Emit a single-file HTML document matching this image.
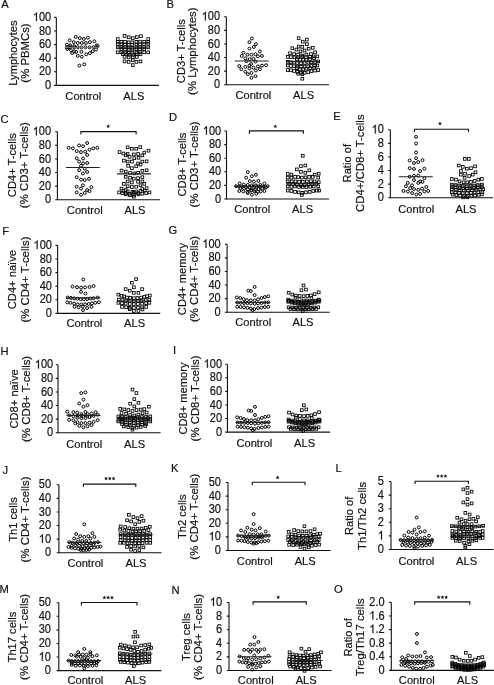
<!DOCTYPE html><html><head><meta charset="utf-8"><style>html,body{margin:0;padding:0;background:#fff;overflow:hidden;}svg{display:block;will-change:transform;}text{font-family:"Liberation Sans", sans-serif;fill:#111;stroke:#111;stroke-width:0.18px;}</style></head><body>
<svg width="494" height="685" viewBox="0 0 494 685">
<rect width="494" height="685" fill="#fff"/>
<g><text x="1.3" y="8.3" font-size="11.2">A</text><path d="M56.35 17.4V85.35H158.95" fill="none" stroke="#111" stroke-width="1.1"/><text transform="translate(45.11 88.95) scale(0.92 1)" font-size="12.0">0</text><text transform="translate(38.97 75.36) scale(0.92 1)" font-size="12.0">2</text><text transform="translate(45.11 75.36) scale(0.92 1)" font-size="12.0">0</text><text transform="translate(38.97 61.77) scale(0.92 1)" font-size="12.0">4</text><text transform="translate(45.11 61.77) scale(0.92 1)" font-size="12.0">0</text><text transform="translate(38.97 48.18) scale(0.92 1)" font-size="12.0">6</text><text transform="translate(45.11 48.18) scale(0.92 1)" font-size="12.0">0</text><text transform="translate(38.97 34.59) scale(0.92 1)" font-size="12.0">8</text><text transform="translate(45.11 34.59) scale(0.92 1)" font-size="12.0">0</text><path transform="translate(32.83 21) scale(0.005391 -0.005859)" d="M763 0H583V1147Q480 1050 223 930V1104Q420 1195 520 1300Q610 1390 649 1472H763Z" fill="#111" stroke="#111" stroke-width="36"/><text transform="translate(38.97 21) scale(0.92 1)" font-size="12.0">0</text><text transform="translate(45.11 21) scale(0.92 1)" font-size="12.0">0</text><path d="M54.15 85.35H56.35M54.15 71.76H56.35M54.15 58.17H56.35M54.15 44.58H56.35M54.15 30.99H56.35M54.15 17.4H56.35" stroke="#111" stroke-width="1.1"/><text transform="translate(16.8 53.1) rotate(-90)" font-size="11.15" text-anchor="middle">Lymphocytes</text><text transform="translate(29.4 53.1) rotate(-90)" font-size="11.35" text-anchor="middle">(<tspan dx="0.2">% PBMCs)</tspan></text><text transform="translate(65.35 99.8) scale(0.965 1)" font-size="11.55">Control</text><text transform="translate(123.3 99.8) scale(0.965 1)" font-size="11.55">ALS</text><g fill="none" stroke="#000" stroke-width="1.0"><circle cx="75.77" cy="36.88" r="1.45"/><circle cx="79.81" cy="38.1" r="1.45"/><circle cx="83.86" cy="38.91" r="1.45"/><circle cx="87.91" cy="37.69" r="1.45"/><circle cx="69.69" cy="40.36" r="1.45"/><circle cx="94.39" cy="41.34" r="1.45"/><circle cx="73.74" cy="42.15" r="1.45"/><circle cx="77.79" cy="42.96" r="1.45"/><circle cx="81.84" cy="42.96" r="1.45"/><circle cx="85.89" cy="42.96" r="1.45"/><circle cx="89.94" cy="42.15" r="1.45"/><circle cx="66.86" cy="44.57" r="1.45"/><circle cx="70.1" cy="45.38" r="1.45"/><circle cx="96.82" cy="45.38" r="1.45"/><circle cx="74.15" cy="46.19" r="1.45"/><circle cx="66.86" cy="47.41" r="1.45"/><circle cx="70.1" cy="47.17" r="1.45"/><circle cx="74.15" cy="47.41" r="1.45"/><circle cx="77.79" cy="47.17" r="1.45"/><circle cx="81.43" cy="47.41" r="1.45"/><circle cx="85.48" cy="47.17" r="1.45"/><circle cx="89.53" cy="47.41" r="1.45"/><circle cx="93.58" cy="47.17" r="1.45"/><circle cx="97.63" cy="46.19" r="1.45"/><circle cx="67.26" cy="49.03" r="1.45"/><circle cx="70.91" cy="50.24" r="1.45"/><circle cx="74.15" cy="51.46" r="1.45"/><circle cx="96.01" cy="49.43" r="1.45"/><circle cx="92.77" cy="51.21" r="1.45"/><circle cx="89.94" cy="53.08" r="1.45"/><circle cx="86.29" cy="54.29" r="1.45"/><circle cx="76.17" cy="51.86" r="1.45"/><circle cx="81.43" cy="51.86" r="1.45"/><circle cx="72.12" cy="53.08" r="1.45"/><circle cx="77.79" cy="55.91" r="1.45"/><circle cx="81.84" cy="56.72" r="1.45"/><circle cx="79.41" cy="65.63" r="1.45"/><circle cx="84.27" cy="64.41" r="1.45"/></g><g fill="none" stroke="#000" stroke-width="0.85"><rect x="123.22" y="34.57" width="2.7" height="2.7"/><rect x="127.32" y="35.94" width="2.7" height="2.7"/><rect x="131.42" y="36.85" width="2.7" height="2.7"/><rect x="135.52" y="35.75" width="2.7" height="2.7"/><rect x="139.62" y="34.84" width="2.7" height="2.7"/><rect x="116.39" y="37.76" width="2.7" height="2.7"/><rect x="146.9" y="37.76" width="2.7" height="2.7"/><rect x="116.39" y="40.49" width="2.7" height="2.7"/><rect x="120.03" y="40.49" width="2.7" height="2.7"/><rect x="123.68" y="40.49" width="2.7" height="2.7"/><rect x="127.32" y="40.95" width="2.7" height="2.7"/><rect x="130.96" y="40.95" width="2.7" height="2.7"/><rect x="135.06" y="40.49" width="2.7" height="2.7"/><rect x="138.7" y="40.31" width="2.7" height="2.7"/><rect x="142.8" y="40.49" width="2.7" height="2.7"/><rect x="146.9" y="40.49" width="2.7" height="2.7"/><rect x="116.39" y="42.77" width="2.7" height="2.7"/><rect x="120.03" y="43.04" width="2.7" height="2.7"/><rect x="123.68" y="43.22" width="2.7" height="2.7"/><rect x="127.32" y="43.4" width="2.7" height="2.7"/><rect x="130.96" y="43.4" width="2.7" height="2.7"/><rect x="135.06" y="43.22" width="2.7" height="2.7"/><rect x="138.7" y="43.04" width="2.7" height="2.7"/><rect x="142.8" y="42.77" width="2.7" height="2.7"/><rect x="146.9" y="42.49" width="2.7" height="2.7"/><rect x="116.39" y="45.95" width="2.7" height="2.7"/><rect x="120.03" y="45.95" width="2.7" height="2.7"/><rect x="123.68" y="45.95" width="2.7" height="2.7"/><rect x="127.32" y="46.14" width="2.7" height="2.7"/><rect x="130.96" y="46.41" width="2.7" height="2.7"/><rect x="135.06" y="46.14" width="2.7" height="2.7"/><rect x="138.7" y="45.95" width="2.7" height="2.7"/><rect x="142.8" y="45.95" width="2.7" height="2.7"/><rect x="146.9" y="45.95" width="2.7" height="2.7"/><rect x="120.03" y="47.78" width="2.7" height="2.7"/><rect x="123.68" y="47.96" width="2.7" height="2.7"/><rect x="127.32" y="48.23" width="2.7" height="2.7"/><rect x="130.96" y="48.23" width="2.7" height="2.7"/><rect x="135.06" y="47.96" width="2.7" height="2.7"/><rect x="138.7" y="47.78" width="2.7" height="2.7"/><rect x="142.8" y="47.78" width="2.7" height="2.7"/><rect x="116.39" y="50.96" width="2.7" height="2.7"/><rect x="120.03" y="50.96" width="2.7" height="2.7"/><rect x="123.68" y="51.24" width="2.7" height="2.7"/><rect x="127.32" y="51.42" width="2.7" height="2.7"/><rect x="130.96" y="51.42" width="2.7" height="2.7"/><rect x="135.06" y="51.24" width="2.7" height="2.7"/><rect x="138.7" y="50.96" width="2.7" height="2.7"/><rect x="142.8" y="50.96" width="2.7" height="2.7"/><rect x="146.9" y="50.96" width="2.7" height="2.7"/><rect x="121.4" y="52.78" width="2.7" height="2.7"/><rect x="125.04" y="53.06" width="2.7" height="2.7"/><rect x="128.23" y="53.24" width="2.7" height="2.7"/><rect x="131.87" y="53.24" width="2.7" height="2.7"/><rect x="135.52" y="53.06" width="2.7" height="2.7"/><rect x="139.16" y="52.78" width="2.7" height="2.7"/><rect x="123.22" y="55.52" width="2.7" height="2.7"/><rect x="127.32" y="55.97" width="2.7" height="2.7"/><rect x="131.42" y="55.97" width="2.7" height="2.7"/><rect x="135.52" y="55.52" width="2.7" height="2.7"/><rect x="123.22" y="60.07" width="2.7" height="2.7"/><rect x="127.32" y="60.53" width="2.7" height="2.7"/><rect x="135.06" y="60.53" width="2.7" height="2.7"/><rect x="139.16" y="60.07" width="2.7" height="2.7"/><rect x="131.42" y="58.7" width="2.7" height="2.7"/><rect x="131.42" y="63.71" width="2.7" height="2.7"/></g><path d="M64.8 47.5H98.8" stroke="#777" stroke-width="1.1"/><path d="M115.95 48H149.95" stroke="#222" stroke-width="1.1"/></g>
<g><text x="166.5" y="8.4" font-size="11.2">B</text><path d="M226.35 16.8V84.75H328.95" fill="none" stroke="#111" stroke-width="1.1"/><text transform="translate(214.01 88.35) scale(0.92 1)" font-size="12.0">0</text><text transform="translate(207.87 74.76) scale(0.92 1)" font-size="12.0">2</text><text transform="translate(214.01 74.76) scale(0.92 1)" font-size="12.0">0</text><text transform="translate(207.87 61.17) scale(0.92 1)" font-size="12.0">4</text><text transform="translate(214.01 61.17) scale(0.92 1)" font-size="12.0">0</text><text transform="translate(207.87 47.58) scale(0.92 1)" font-size="12.0">6</text><text transform="translate(214.01 47.58) scale(0.92 1)" font-size="12.0">0</text><text transform="translate(207.87 33.99) scale(0.92 1)" font-size="12.0">8</text><text transform="translate(214.01 33.99) scale(0.92 1)" font-size="12.0">0</text><path transform="translate(201.73 20.4) scale(0.005391 -0.005859)" d="M763 0H583V1147Q480 1050 223 930V1104Q420 1195 520 1300Q610 1390 649 1472H763Z" fill="#111" stroke="#111" stroke-width="36"/><text transform="translate(207.87 20.4) scale(0.92 1)" font-size="12.0">0</text><text transform="translate(214.01 20.4) scale(0.92 1)" font-size="12.0">0</text><path d="M224.15 84.75H226.35M224.15 71.16H226.35M224.15 57.57H226.35M224.15 43.98H226.35M224.15 30.39H226.35M224.15 16.8H226.35" stroke="#111" stroke-width="1.1"/><text transform="translate(184.7 51.2) rotate(-90)" font-size="11.15" text-anchor="middle">CD3+ T-cells</text><text transform="translate(196.4 51.2) rotate(-90)" font-size="11.35" text-anchor="middle">(<tspan dx="0.2">% Lymphocytes)</tspan></text><text transform="translate(235.45 99.3) scale(0.965 1)" font-size="11.55">Control</text><text transform="translate(293.1 99.3) scale(0.965 1)" font-size="11.55">ALS</text><g fill="none" stroke="#000" stroke-width="1.0"><circle cx="251.84" cy="38.5" r="1.45"/><circle cx="249.41" cy="42.15" r="1.45"/><circle cx="255.89" cy="44.17" r="1.45"/><circle cx="253.86" cy="47" r="1.45"/><circle cx="249.41" cy="48.62" r="1.45"/><circle cx="243.34" cy="52.67" r="1.45"/><circle cx="259.94" cy="51.46" r="1.45"/><circle cx="241.72" cy="55.91" r="1.45"/><circle cx="247.38" cy="54.7" r="1.45"/><circle cx="251.43" cy="54.7" r="1.45"/><circle cx="255.48" cy="54.29" r="1.45"/><circle cx="257.91" cy="56.32" r="1.45"/><circle cx="261.96" cy="55.91" r="1.45"/><circle cx="245.36" cy="58.34" r="1.45"/><circle cx="249.81" cy="59.15" r="1.45"/><circle cx="253.46" cy="58.74" r="1.45"/><circle cx="246.57" cy="61.17" r="1.45"/><circle cx="255.48" cy="61.58" r="1.45"/><circle cx="251.03" cy="64.01" r="1.45"/><circle cx="239.29" cy="66.03" r="1.45"/><circle cx="245.36" cy="66.84" r="1.45"/><circle cx="249.41" cy="65.63" r="1.45"/><circle cx="253.46" cy="67.65" r="1.45"/><circle cx="257.91" cy="66.44" r="1.45"/><circle cx="261.96" cy="65.63" r="1.45"/><circle cx="266.01" cy="65.22" r="1.45"/><circle cx="241.31" cy="69.27" r="1.45"/><circle cx="249.41" cy="68.46" r="1.45"/><circle cx="255.89" cy="70.49" r="1.45"/><circle cx="259.94" cy="69.27" r="1.45"/><circle cx="245.36" cy="71.7" r="1.45"/><circle cx="247.79" cy="74.13" r="1.45"/><circle cx="251.43" cy="72.91" r="1.45"/><circle cx="255.48" cy="76.15" r="1.45"/><circle cx="251.43" cy="77.77" r="1.45"/></g><g fill="none" stroke="#000" stroke-width="0.85"><rect x="297.32" y="36.85" width="2.7" height="2.7"/><rect x="301.42" y="40.31" width="2.7" height="2.7"/><rect x="305.52" y="38.21" width="2.7" height="2.7"/><rect x="305.52" y="42.77" width="2.7" height="2.7"/><rect x="290.95" y="46.86" width="2.7" height="2.7"/><rect x="295.04" y="48.23" width="2.7" height="2.7"/><rect x="297.32" y="45.23" width="2.7" height="2.7"/><rect x="300.96" y="45.5" width="2.7" height="2.7"/><rect x="303.24" y="49.14" width="2.7" height="2.7"/><rect x="307.34" y="47.32" width="2.7" height="2.7"/><rect x="311.44" y="46.41" width="2.7" height="2.7"/><rect x="299.14" y="50.05" width="2.7" height="2.7"/><rect x="288.67" y="51.87" width="2.7" height="2.7"/><rect x="292.77" y="52.78" width="2.7" height="2.7"/><rect x="296.86" y="53.24" width="2.7" height="2.7"/><rect x="300.96" y="54.15" width="2.7" height="2.7"/><rect x="305.06" y="53.24" width="2.7" height="2.7"/><rect x="309.62" y="52.78" width="2.7" height="2.7"/><rect x="313.71" y="50.96" width="2.7" height="2.7"/><rect x="286.39" y="55.52" width="2.7" height="2.7"/><rect x="289.58" y="55.79" width="2.7" height="2.7"/><rect x="293.22" y="55.97" width="2.7" height="2.7"/><rect x="296.86" y="55.97" width="2.7" height="2.7"/><rect x="300.96" y="55.52" width="2.7" height="2.7"/><rect x="304.61" y="55.97" width="2.7" height="2.7"/><rect x="308.7" y="55.52" width="2.7" height="2.7"/><rect x="312.35" y="55.06" width="2.7" height="2.7"/><rect x="315.99" y="55.06" width="2.7" height="2.7"/><rect x="295.5" y="57.61" width="2.7" height="2.7"/><rect x="298.69" y="58.25" width="2.7" height="2.7"/><rect x="301.87" y="58.25" width="2.7" height="2.7"/><rect x="305.06" y="58.25" width="2.7" height="2.7"/><rect x="308.7" y="57.61" width="2.7" height="2.7"/><rect x="312.8" y="56.88" width="2.7" height="2.7"/><rect x="286.39" y="60.53" width="2.7" height="2.7"/><rect x="289.58" y="60.98" width="2.7" height="2.7"/><rect x="292.77" y="61.25" width="2.7" height="2.7"/><rect x="295.95" y="61.62" width="2.7" height="2.7"/><rect x="299.6" y="61.89" width="2.7" height="2.7"/><rect x="303.24" y="61.62" width="2.7" height="2.7"/><rect x="306.88" y="61.25" width="2.7" height="2.7"/><rect x="310.07" y="60.98" width="2.7" height="2.7"/><rect x="313.71" y="60.71" width="2.7" height="2.7"/><rect x="316.9" y="60.07" width="2.7" height="2.7"/><rect x="286.39" y="64.17" width="2.7" height="2.7"/><rect x="289.58" y="64.62" width="2.7" height="2.7"/><rect x="292.77" y="64.9" width="2.7" height="2.7"/><rect x="295.95" y="65.26" width="2.7" height="2.7"/><rect x="299.6" y="65.54" width="2.7" height="2.7"/><rect x="303.24" y="65.26" width="2.7" height="2.7"/><rect x="306.88" y="64.9" width="2.7" height="2.7"/><rect x="310.07" y="64.62" width="2.7" height="2.7"/><rect x="313.71" y="64.35" width="2.7" height="2.7"/><rect x="315.99" y="64.17" width="2.7" height="2.7"/><rect x="295.5" y="66.9" width="2.7" height="2.7"/><rect x="298.69" y="67.63" width="2.7" height="2.7"/><rect x="301.87" y="67.81" width="2.7" height="2.7"/><rect x="305.06" y="67.36" width="2.7" height="2.7"/><rect x="308.7" y="66.9" width="2.7" height="2.7"/><rect x="312.8" y="66.45" width="2.7" height="2.7"/><rect x="286.39" y="68.72" width="2.7" height="2.7"/><rect x="289.58" y="68.91" width="2.7" height="2.7"/><rect x="292.77" y="69.63" width="2.7" height="2.7"/><rect x="295.95" y="70.54" width="2.7" height="2.7"/><rect x="299.6" y="71.46" width="2.7" height="2.7"/><rect x="303.24" y="71.46" width="2.7" height="2.7"/><rect x="306.88" y="70.73" width="2.7" height="2.7"/><rect x="310.07" y="69.82" width="2.7" height="2.7"/><rect x="313.71" y="69.18" width="2.7" height="2.7"/><rect x="316.9" y="68.72" width="2.7" height="2.7"/><rect x="296.86" y="72.37" width="2.7" height="2.7"/><rect x="300.96" y="72.82" width="2.7" height="2.7"/><rect x="300.96" y="77.37" width="2.7" height="2.7"/></g><path d="M234.8 61H268.8" stroke="#222" stroke-width="1.1"/><path d="M285.95 61.6H319.95" stroke="#222" stroke-width="1.1"/></g>
<g><text x="0.5" y="123.4" font-size="11.2">C</text><path d="M57.4 131.8V199.75H160" fill="none" stroke="#111" stroke-width="1.1"/><text transform="translate(45.01 203.35) scale(0.92 1)" font-size="12.0">0</text><text transform="translate(38.87 189.76) scale(0.92 1)" font-size="12.0">2</text><text transform="translate(45.01 189.76) scale(0.92 1)" font-size="12.0">0</text><text transform="translate(38.87 176.17) scale(0.92 1)" font-size="12.0">4</text><text transform="translate(45.01 176.17) scale(0.92 1)" font-size="12.0">0</text><text transform="translate(38.87 162.58) scale(0.92 1)" font-size="12.0">6</text><text transform="translate(45.01 162.58) scale(0.92 1)" font-size="12.0">0</text><text transform="translate(38.87 148.99) scale(0.92 1)" font-size="12.0">8</text><text transform="translate(45.01 148.99) scale(0.92 1)" font-size="12.0">0</text><path transform="translate(32.73 135.4) scale(0.005391 -0.005859)" d="M763 0H583V1147Q480 1050 223 930V1104Q420 1195 520 1300Q610 1390 649 1472H763Z" fill="#111" stroke="#111" stroke-width="36"/><text transform="translate(38.87 135.4) scale(0.92 1)" font-size="12.0">0</text><text transform="translate(45.01 135.4) scale(0.92 1)" font-size="12.0">0</text><path d="M55.2 199.75H57.4M55.2 186.16H57.4M55.2 172.57H57.4M55.2 158.98H57.4M55.2 145.39H57.4M55.2 131.8H57.4" stroke="#111" stroke-width="1.1"/><text transform="translate(15.5 165.2) rotate(-90)" font-size="11.15" text-anchor="middle">CD4+ T-cells</text><text transform="translate(28 165.2) rotate(-90)" font-size="11.35" text-anchor="middle">(<tspan dx="0.2">% CD3+ T-cells)</tspan></text><text transform="translate(66.85 214.3) scale(0.965 1)" font-size="11.55">Control</text><text transform="translate(124.5 214.3) scale(0.965 1)" font-size="11.55">ALS</text><g fill="none" stroke="#000" stroke-width="1.0"><circle cx="87.14" cy="143.06" r="1.45"/><circle cx="79.08" cy="145.44" r="1.45"/><circle cx="83.06" cy="146.2" r="1.45"/><circle cx="68.64" cy="147.81" r="1.45"/><circle cx="72.91" cy="148.28" r="1.45"/><circle cx="76.71" cy="151.13" r="1.45"/><circle cx="80.98" cy="152.08" r="1.45"/><circle cx="85.24" cy="151.6" r="1.45"/><circle cx="89.51" cy="149.71" r="1.45"/><circle cx="93.31" cy="148.28" r="1.45"/><circle cx="97.29" cy="147.81" r="1.45"/><circle cx="87.14" cy="154.92" r="1.45"/><circle cx="76.71" cy="158.24" r="1.45"/><circle cx="83.06" cy="158.53" r="1.45"/><circle cx="79.08" cy="161.57" r="1.45"/><circle cx="83.06" cy="163.46" r="1.45"/><circle cx="87.14" cy="162.99" r="1.45"/><circle cx="80.98" cy="165.83" r="1.45"/><circle cx="79.08" cy="170.1" r="1.45"/><circle cx="84.77" cy="168.68" r="1.45"/><circle cx="87.14" cy="172" r="1.45"/><circle cx="82.87" cy="173.43" r="1.45"/><circle cx="76.71" cy="177.22" r="1.45"/><circle cx="80.98" cy="179.59" r="1.45"/><circle cx="84.77" cy="180.07" r="1.45"/><circle cx="89.04" cy="178.83" r="1.45"/><circle cx="76.71" cy="186.71" r="1.45"/><circle cx="82.87" cy="185.28" r="1.45"/><circle cx="80.98" cy="188.61" r="1.45"/><circle cx="91.41" cy="187.18" r="1.45"/><circle cx="87.14" cy="190.03" r="1.45"/><circle cx="89.51" cy="191.17" r="1.45"/><circle cx="76.71" cy="192.4" r="1.45"/><circle cx="80.98" cy="194.77" r="1.45"/><circle cx="84.77" cy="192.87" r="1.45"/></g><g fill="none" stroke="#000" stroke-width="0.85"><rect x="126.3" y="145.98" width="2.7" height="2.7"/><rect x="130.57" y="147.41" width="2.7" height="2.7"/><rect x="134.84" y="147.41" width="2.7" height="2.7"/><rect x="138.92" y="145.79" width="2.7" height="2.7"/><rect x="118.24" y="150.73" width="2.7" height="2.7"/><rect x="147.18" y="149.3" width="2.7" height="2.7"/><rect x="142.91" y="151.2" width="2.7" height="2.7"/><rect x="122.04" y="152.15" width="2.7" height="2.7"/><rect x="126.3" y="152.63" width="2.7" height="2.7"/><rect x="132.47" y="153.1" width="2.7" height="2.7"/><rect x="136.74" y="152.63" width="2.7" height="2.7"/><rect x="141.01" y="154.05" width="2.7" height="2.7"/><rect x="124.41" y="154.05" width="2.7" height="2.7"/><rect x="128.2" y="155.47" width="2.7" height="2.7"/><rect x="132.95" y="156.89" width="2.7" height="2.7"/><rect x="137.22" y="156.42" width="2.7" height="2.7"/><rect x="122.51" y="159.27" width="2.7" height="2.7"/><rect x="126.3" y="160.22" width="2.7" height="2.7"/><rect x="130.57" y="160.22" width="2.7" height="2.7"/><rect x="141.01" y="160.22" width="2.7" height="2.7"/><rect x="145.28" y="160.03" width="2.7" height="2.7"/><rect x="136.74" y="162.11" width="2.7" height="2.7"/><rect x="139.11" y="163.25" width="2.7" height="2.7"/><rect x="126.78" y="164.48" width="2.7" height="2.7"/><rect x="134.84" y="164.96" width="2.7" height="2.7"/><rect x="130.57" y="166.86" width="2.7" height="2.7"/><rect x="120.14" y="169.23" width="2.7" height="2.7"/><rect x="124.41" y="170.18" width="2.7" height="2.7"/><rect x="141.01" y="169.51" width="2.7" height="2.7"/><rect x="145.28" y="168.94" width="2.7" height="2.7"/><rect x="128.68" y="171.6" width="2.7" height="2.7"/><rect x="132.95" y="172.08" width="2.7" height="2.7"/><rect x="136.74" y="171.41" width="2.7" height="2.7"/><rect x="124.41" y="175.4" width="2.7" height="2.7"/><rect x="128.68" y="176.34" width="2.7" height="2.7"/><rect x="132.47" y="177.29" width="2.7" height="2.7"/><rect x="136.74" y="176.82" width="2.7" height="2.7"/><rect x="141.01" y="175.87" width="2.7" height="2.7"/><rect x="126.3" y="180.14" width="2.7" height="2.7"/><rect x="130.57" y="181.09" width="2.7" height="2.7"/><rect x="136.74" y="180.33" width="2.7" height="2.7"/><rect x="141.01" y="180.14" width="2.7" height="2.7"/><rect x="122.51" y="182.51" width="2.7" height="2.7"/><rect x="142.91" y="182.51" width="2.7" height="2.7"/><rect x="126.3" y="184.88" width="2.7" height="2.7"/><rect x="130.57" y="185.64" width="2.7" height="2.7"/><rect x="134.84" y="185.36" width="2.7" height="2.7"/><rect x="139.11" y="183.93" width="2.7" height="2.7"/><rect x="120.14" y="187.26" width="2.7" height="2.7"/><rect x="124.41" y="188.68" width="2.7" height="2.7"/><rect x="141.01" y="187.73" width="2.7" height="2.7"/><rect x="145.28" y="186.78" width="2.7" height="2.7"/><rect x="122.04" y="189.63" width="2.7" height="2.7"/><rect x="126.3" y="190.1" width="2.7" height="2.7"/><rect x="131.05" y="190.39" width="2.7" height="2.7"/><rect x="134.84" y="190.2" width="2.7" height="2.7"/><rect x="139.11" y="189.63" width="2.7" height="2.7"/><rect x="143.38" y="189.15" width="2.7" height="2.7"/><rect x="117.77" y="191.05" width="2.7" height="2.7"/><rect x="121.09" y="191.71" width="2.7" height="2.7"/><rect x="124.41" y="192" width="2.7" height="2.7"/><rect x="128.2" y="192.47" width="2.7" height="2.7"/><rect x="132.47" y="191.34" width="2.7" height="2.7"/><rect x="136.74" y="191.71" width="2.7" height="2.7"/><rect x="141.01" y="192.28" width="2.7" height="2.7"/><rect x="144.81" y="191.71" width="2.7" height="2.7"/><rect x="148.13" y="191.05" width="2.7" height="2.7"/><rect x="124.41" y="192.95" width="2.7" height="2.7"/><rect x="128.68" y="193.9" width="2.7" height="2.7"/><rect x="132.95" y="193.42" width="2.7" height="2.7"/><rect x="137.22" y="192.95" width="2.7" height="2.7"/><rect x="132.47" y="195.32" width="2.7" height="2.7"/></g><path d="M65.85 167.5H99.85" stroke="#222" stroke-width="1.1"/><path d="M117 173.9H151" stroke="#222" stroke-width="1.1"/><path d="M80.9 134.5V131.6H136.1V134.5" fill="none" stroke="#111" stroke-width="1.1"/><polygon points="108.2,124.2 108.73,125.52 110.15,125.62 109.06,126.53 109.4,127.91 108.2,127.15 107,127.91 107.34,126.53 106.25,125.62 107.67,125.52" fill="#111"/></g>
<g><text x="169.1" y="121.4" font-size="11.2">D</text><path d="M226.5 131V198.95H329.1" fill="none" stroke="#111" stroke-width="1.1"/><text transform="translate(215.11 202.55) scale(0.92 1)" font-size="12.0">0</text><text transform="translate(208.97 188.96) scale(0.92 1)" font-size="12.0">2</text><text transform="translate(215.11 188.96) scale(0.92 1)" font-size="12.0">0</text><text transform="translate(208.97 175.37) scale(0.92 1)" font-size="12.0">4</text><text transform="translate(215.11 175.37) scale(0.92 1)" font-size="12.0">0</text><text transform="translate(208.97 161.78) scale(0.92 1)" font-size="12.0">6</text><text transform="translate(215.11 161.78) scale(0.92 1)" font-size="12.0">0</text><text transform="translate(208.97 148.19) scale(0.92 1)" font-size="12.0">8</text><text transform="translate(215.11 148.19) scale(0.92 1)" font-size="12.0">0</text><path transform="translate(202.83 134.6) scale(0.005391 -0.005859)" d="M763 0H583V1147Q480 1050 223 930V1104Q420 1195 520 1300Q610 1390 649 1472H763Z" fill="#111" stroke="#111" stroke-width="36"/><text transform="translate(208.97 134.6) scale(0.92 1)" font-size="12.0">0</text><text transform="translate(215.11 134.6) scale(0.92 1)" font-size="12.0">0</text><path d="M224.3 198.95H226.5M224.3 185.36H226.5M224.3 171.77H226.5M224.3 158.18H226.5M224.3 144.59H226.5M224.3 131H226.5" stroke="#111" stroke-width="1.1"/><text transform="translate(185.8 164.5) rotate(-90)" font-size="11.15" text-anchor="middle">CD8+ T-cells</text><text transform="translate(198 164.5) rotate(-90)" font-size="11.35" text-anchor="middle">(<tspan dx="0.2">% CD3+ T-cells)</tspan></text><text transform="translate(234.25 213.3) scale(0.965 1)" font-size="11.55">Control</text><text transform="translate(292.1 213.3) scale(0.965 1)" font-size="11.55">ALS</text><g fill="none" stroke="#000" stroke-width="1.0"><circle cx="247.81" cy="172.17" r="1.45"/><circle cx="251.86" cy="176.21" r="1.45"/><circle cx="255.91" cy="174.84" r="1.45"/><circle cx="246.19" cy="177.67" r="1.45"/><circle cx="249.84" cy="181.07" r="1.45"/><circle cx="253.89" cy="181.56" r="1.45"/><circle cx="258.34" cy="180.91" r="1.45"/><circle cx="239.72" cy="183.5" r="1.45"/><circle cx="243.77" cy="184.55" r="1.45"/><circle cx="247.81" cy="184.96" r="1.45"/><circle cx="251.86" cy="185.36" r="1.45"/><circle cx="255.91" cy="185.36" r="1.45"/><circle cx="260.36" cy="184.96" r="1.45"/><circle cx="264.41" cy="183.5" r="1.45"/><circle cx="236.07" cy="186.17" r="1.45"/><circle cx="238.91" cy="186.42" r="1.45"/><circle cx="242.15" cy="186.74" r="1.45"/><circle cx="245.79" cy="186.98" r="1.45"/><circle cx="249.43" cy="186.98" r="1.45"/><circle cx="253.08" cy="186.74" r="1.45"/><circle cx="256.72" cy="186.74" r="1.45"/><circle cx="259.96" cy="186.74" r="1.45"/><circle cx="264.01" cy="186.74" r="1.45"/><circle cx="267.65" cy="186.17" r="1.45"/><circle cx="240.53" cy="188.2" r="1.45"/><circle cx="244.17" cy="188.6" r="1.45"/><circle cx="247.81" cy="189.41" r="1.45"/><circle cx="251.46" cy="189.82" r="1.45"/><circle cx="255.1" cy="189.66" r="1.45"/><circle cx="258.74" cy="189.01" r="1.45"/><circle cx="262.39" cy="188.2" r="1.45"/><circle cx="266.03" cy="187.39" r="1.45"/><circle cx="239.31" cy="191.03" r="1.45"/><circle cx="243.36" cy="191.44" r="1.45"/><circle cx="247.41" cy="191.84" r="1.45"/><circle cx="251.05" cy="190.63" r="1.45"/><circle cx="254.29" cy="191.03" r="1.45"/><circle cx="257.94" cy="191.84" r="1.45"/><circle cx="260.77" cy="191.44" r="1.45"/><circle cx="264.41" cy="191.03" r="1.45"/><circle cx="247.81" cy="193.06" r="1.45"/><circle cx="251.86" cy="194.68" r="1.45"/><circle cx="256.32" cy="193.7" r="1.45"/></g><g fill="none" stroke="#000" stroke-width="0.85"><rect x="301.42" y="154.4" width="2.7" height="2.7"/><rect x="299.6" y="164.78" width="2.7" height="2.7"/><rect x="303.97" y="164.14" width="2.7" height="2.7"/><rect x="295.5" y="168.06" width="2.7" height="2.7"/><rect x="299.6" y="170.52" width="2.7" height="2.7"/><rect x="303.97" y="171.43" width="2.7" height="2.7"/><rect x="307.98" y="168.97" width="2.7" height="2.7"/><rect x="286.39" y="172.61" width="2.7" height="2.7"/><rect x="290.03" y="173.25" width="2.7" height="2.7"/><rect x="313.26" y="173.25" width="2.7" height="2.7"/><rect x="317.36" y="172.34" width="2.7" height="2.7"/><rect x="286.39" y="176.25" width="2.7" height="2.7"/><rect x="290.03" y="176.25" width="2.7" height="2.7"/><rect x="293.68" y="175.53" width="2.7" height="2.7"/><rect x="296.86" y="175.71" width="2.7" height="2.7"/><rect x="300.51" y="176.25" width="2.7" height="2.7"/><rect x="304.15" y="175.98" width="2.7" height="2.7"/><rect x="307.79" y="175.53" width="2.7" height="2.7"/><rect x="311.44" y="175.53" width="2.7" height="2.7"/><rect x="316.9" y="176.25" width="2.7" height="2.7"/><rect x="286.39" y="180.08" width="2.7" height="2.7"/><rect x="290.49" y="180.08" width="2.7" height="2.7"/><rect x="294.13" y="180.08" width="2.7" height="2.7"/><rect x="297.78" y="180.54" width="2.7" height="2.7"/><rect x="301.42" y="180.54" width="2.7" height="2.7"/><rect x="305.52" y="180.08" width="2.7" height="2.7"/><rect x="309.62" y="179.9" width="2.7" height="2.7"/><rect x="313.26" y="180.08" width="2.7" height="2.7"/><rect x="317.36" y="180.81" width="2.7" height="2.7"/><rect x="287.76" y="182.36" width="2.7" height="2.7"/><rect x="291.86" y="182.81" width="2.7" height="2.7"/><rect x="295.5" y="183.27" width="2.7" height="2.7"/><rect x="299.6" y="183.72" width="2.7" height="2.7"/><rect x="303.24" y="183.72" width="2.7" height="2.7"/><rect x="307.34" y="183.27" width="2.7" height="2.7"/><rect x="310.98" y="182.81" width="2.7" height="2.7"/><rect x="315.08" y="182.36" width="2.7" height="2.7"/><rect x="286.39" y="185.09" width="2.7" height="2.7"/><rect x="290.03" y="185.54" width="2.7" height="2.7"/><rect x="293.68" y="185.09" width="2.7" height="2.7"/><rect x="297.78" y="185.54" width="2.7" height="2.7"/><rect x="301.42" y="185.54" width="2.7" height="2.7"/><rect x="305.06" y="185.54" width="2.7" height="2.7"/><rect x="308.7" y="185.36" width="2.7" height="2.7"/><rect x="312.35" y="185.09" width="2.7" height="2.7"/><rect x="316.9" y="185.09" width="2.7" height="2.7"/><rect x="286.39" y="189.19" width="2.7" height="2.7"/><rect x="290.03" y="189.64" width="2.7" height="2.7"/><rect x="293.68" y="190.55" width="2.7" height="2.7"/><rect x="297.32" y="191.01" width="2.7" height="2.7"/><rect x="300.96" y="191.46" width="2.7" height="2.7"/><rect x="304.61" y="191.01" width="2.7" height="2.7"/><rect x="308.25" y="190.55" width="2.7" height="2.7"/><rect x="311.89" y="189.64" width="2.7" height="2.7"/><rect x="315.54" y="189.19" width="2.7" height="2.7"/><rect x="317.81" y="189.19" width="2.7" height="2.7"/><rect x="300.51" y="193.56" width="2.7" height="2.7"/></g><path d="M234.95 186.4H268.95" stroke="#222" stroke-width="1.1"/><path d="M286.1 183.8H320.1" stroke="#222" stroke-width="1.1"/><path d="M249.4 133.8V130.9H303.4V133.8" fill="none" stroke="#111" stroke-width="1.1"/><polygon points="275.3,124.4 275.83,125.72 277.25,125.82 276.16,126.73 276.5,128.11 275.3,127.35 274.1,128.11 274.44,126.73 273.35,125.82 274.77,125.72" fill="#111"/></g>
<g><text x="333.2" y="120.2" font-size="11.2">E</text><path d="M390.35 129.8V197.75H492.95" fill="none" stroke="#111" stroke-width="1.1"/><text transform="translate(377.81 201.35) scale(0.92 1)" font-size="12.0">0</text><text transform="translate(377.81 187.76) scale(0.92 1)" font-size="12.0">2</text><text transform="translate(377.81 174.17) scale(0.92 1)" font-size="12.0">4</text><text transform="translate(377.81 160.58) scale(0.92 1)" font-size="12.0">6</text><text transform="translate(377.81 146.99) scale(0.92 1)" font-size="12.0">8</text><path transform="translate(371.67 133.4) scale(0.005391 -0.005859)" d="M763 0H583V1147Q480 1050 223 930V1104Q420 1195 520 1300Q610 1390 649 1472H763Z" fill="#111" stroke="#111" stroke-width="36"/><text transform="translate(377.81 133.4) scale(0.92 1)" font-size="12.0">0</text><path d="M388.15 197.75H390.35M388.15 184.16H390.35M388.15 170.57H390.35M388.15 156.98H390.35M388.15 143.39H390.35M388.15 129.8H390.35" stroke="#111" stroke-width="1.1"/><text transform="translate(351.1 163.2) rotate(-90)" font-size="11.15" text-anchor="middle">Ratio of</text><text transform="translate(363.7 163.2) rotate(-90)" font-size="11.35" text-anchor="middle">CD4+/CD8+ T-cells</text><text transform="translate(398.25 213.3) scale(0.965 1)" font-size="11.55">Control</text><text transform="translate(455.5 213.3) scale(0.965 1)" font-size="11.55">ALS</text><g fill="none" stroke="#000" stroke-width="1.0"><circle cx="416.06" cy="136.9" r="1.45"/><circle cx="416.06" cy="143.54" r="1.45"/><circle cx="416.06" cy="152.55" r="1.45"/><circle cx="416.06" cy="158.24" r="1.45"/><circle cx="409.71" cy="160.43" r="1.45"/><circle cx="413.98" cy="162.99" r="1.45"/><circle cx="418.24" cy="162.04" r="1.45"/><circle cx="422.51" cy="160.14" r="1.45"/><circle cx="409.71" cy="168.21" r="1.45"/><circle cx="413.98" cy="168.97" r="1.45"/><circle cx="424.41" cy="168.68" r="1.45"/><circle cx="420.14" cy="171.05" r="1.45"/><circle cx="409.71" cy="176.75" r="1.45"/><circle cx="413.98" cy="175.8" r="1.45"/><circle cx="418.24" cy="175.61" r="1.45"/><circle cx="413.98" cy="180.07" r="1.45"/><circle cx="424.41" cy="178.17" r="1.45"/><circle cx="407.81" cy="182.91" r="1.45"/><circle cx="412.08" cy="185.28" r="1.45"/><circle cx="418.24" cy="182.91" r="1.45"/><circle cx="420.14" cy="181.49" r="1.45"/><circle cx="422.51" cy="181.96" r="1.45"/><circle cx="405.91" cy="186.23" r="1.45"/><circle cx="410.18" cy="188.13" r="1.45"/><circle cx="413.98" cy="189.08" r="1.45"/><circle cx="418.24" cy="189.84" r="1.45"/><circle cx="422.04" cy="188.61" r="1.45"/><circle cx="426.31" cy="186.99" r="1.45"/><circle cx="403.54" cy="190.98" r="1.45"/><circle cx="407.81" cy="191.45" r="1.45"/><circle cx="412.08" cy="193.06" r="1.45"/><circle cx="416.35" cy="194.58" r="1.45"/><circle cx="420.14" cy="193.82" r="1.45"/><circle cx="424.41" cy="191.45" r="1.45"/><circle cx="428.21" cy="190.98" r="1.45"/></g><g fill="none" stroke="#000" stroke-width="0.85"><rect x="463.5" y="157.58" width="2.7" height="2.7"/><rect x="467.51" y="157.58" width="2.7" height="2.7"/><rect x="457.31" y="164.13" width="2.7" height="2.7"/><rect x="461.41" y="165.5" width="2.7" height="2.7"/><rect x="465.51" y="167.32" width="2.7" height="2.7"/><rect x="469.61" y="166.86" width="2.7" height="2.7"/><rect x="473.7" y="165.04" width="2.7" height="2.7"/><rect x="459.59" y="169.6" width="2.7" height="2.7"/><rect x="459.59" y="173.24" width="2.7" height="2.7"/><rect x="463.69" y="172.33" width="2.7" height="2.7"/><rect x="467.78" y="174.61" width="2.7" height="2.7"/><rect x="471.43" y="173.24" width="2.7" height="2.7"/><rect x="474.16" y="170.96" width="2.7" height="2.7"/><rect x="463.23" y="176.43" width="2.7" height="2.7"/><rect x="450.48" y="177.61" width="2.7" height="2.7"/><rect x="454.58" y="178.25" width="2.7" height="2.7"/><rect x="458.22" y="180.07" width="2.7" height="2.7"/><rect x="462.32" y="180.98" width="2.7" height="2.7"/><rect x="465.96" y="180.98" width="2.7" height="2.7"/><rect x="469.61" y="180.53" width="2.7" height="2.7"/><rect x="473.25" y="179.62" width="2.7" height="2.7"/><rect x="476.89" y="178.25" width="2.7" height="2.7"/><rect x="480.54" y="177.61" width="2.7" height="2.7"/><rect x="450.48" y="183.26" width="2.7" height="2.7"/><rect x="454.12" y="183.71" width="2.7" height="2.7"/><rect x="457.77" y="184.17" width="2.7" height="2.7"/><rect x="461.41" y="184.62" width="2.7" height="2.7"/><rect x="465.51" y="184.9" width="2.7" height="2.7"/><rect x="469.15" y="184.62" width="2.7" height="2.7"/><rect x="472.79" y="184.17" width="2.7" height="2.7"/><rect x="476.44" y="183.71" width="2.7" height="2.7"/><rect x="480.54" y="183.26" width="2.7" height="2.7"/><rect x="450.48" y="185.99" width="2.7" height="2.7"/><rect x="454.12" y="186.17" width="2.7" height="2.7"/><rect x="458.22" y="186.72" width="2.7" height="2.7"/><rect x="461.86" y="186.9" width="2.7" height="2.7"/><rect x="465.51" y="187.08" width="2.7" height="2.7"/><rect x="469.15" y="186.9" width="2.7" height="2.7"/><rect x="472.79" y="186.72" width="2.7" height="2.7"/><rect x="476.44" y="186.17" width="2.7" height="2.7"/><rect x="480.54" y="185.99" width="2.7" height="2.7"/><rect x="450.48" y="187.81" width="2.7" height="2.7"/><rect x="454.58" y="188.27" width="2.7" height="2.7"/><rect x="458.22" y="188.72" width="2.7" height="2.7"/><rect x="462.32" y="189.18" width="2.7" height="2.7"/><rect x="466.42" y="189.18" width="2.7" height="2.7"/><rect x="470.52" y="188.72" width="2.7" height="2.7"/><rect x="474.62" y="188.27" width="2.7" height="2.7"/><rect x="478.71" y="187.81" width="2.7" height="2.7"/><rect x="481.9" y="187.81" width="2.7" height="2.7"/><rect x="450.48" y="191" width="2.7" height="2.7"/><rect x="454.12" y="191.27" width="2.7" height="2.7"/><rect x="457.77" y="191.46" width="2.7" height="2.7"/><rect x="461.41" y="191.64" width="2.7" height="2.7"/><rect x="465.51" y="191.64" width="2.7" height="2.7"/><rect x="469.61" y="191.46" width="2.7" height="2.7"/><rect x="473.25" y="191.27" width="2.7" height="2.7"/><rect x="476.89" y="191" width="2.7" height="2.7"/><rect x="480.99" y="191" width="2.7" height="2.7"/><rect x="451.39" y="193.28" width="2.7" height="2.7"/><rect x="455.03" y="193.73" width="2.7" height="2.7"/><rect x="458.68" y="194.19" width="2.7" height="2.7"/><rect x="462.78" y="194.64" width="2.7" height="2.7"/><rect x="466.42" y="194.64" width="2.7" height="2.7"/><rect x="470.06" y="194.37" width="2.7" height="2.7"/><rect x="473.7" y="194.01" width="2.7" height="2.7"/><rect x="477.35" y="193.46" width="2.7" height="2.7"/><rect x="480.54" y="193.09" width="2.7" height="2.7"/><rect x="461.86" y="196.01" width="2.7" height="2.7"/><rect x="465.96" y="196.01" width="2.7" height="2.7"/></g><path d="M398.8 176.8H432.8" stroke="#222" stroke-width="1.1"/><path d="M449.95 185H483.95" stroke="#222" stroke-width="1.1"/><path d="M414.4 132.1V129.2H468.4V132.1" fill="none" stroke="#111" stroke-width="1.1"/><polygon points="440,121.5 440.53,122.82 441.95,122.92 440.86,123.83 441.2,125.21 440,124.45 438.8,125.21 439.14,123.83 438.05,122.92 439.47,122.82" fill="#111"/></g>
<g><text x="2.2" y="235.2" font-size="11.2">F</text><path d="M57.65 245.4V313.35H160.25" fill="none" stroke="#111" stroke-width="1.1"/><text transform="translate(45.81 316.95) scale(0.92 1)" font-size="12.0">0</text><text transform="translate(39.67 303.36) scale(0.92 1)" font-size="12.0">2</text><text transform="translate(45.81 303.36) scale(0.92 1)" font-size="12.0">0</text><text transform="translate(39.67 289.77) scale(0.92 1)" font-size="12.0">4</text><text transform="translate(45.81 289.77) scale(0.92 1)" font-size="12.0">0</text><text transform="translate(39.67 276.18) scale(0.92 1)" font-size="12.0">6</text><text transform="translate(45.81 276.18) scale(0.92 1)" font-size="12.0">0</text><text transform="translate(39.67 262.59) scale(0.92 1)" font-size="12.0">8</text><text transform="translate(45.81 262.59) scale(0.92 1)" font-size="12.0">0</text><path transform="translate(33.53 249) scale(0.005391 -0.005859)" d="M763 0H583V1147Q480 1050 223 930V1104Q420 1195 520 1300Q610 1390 649 1472H763Z" fill="#111" stroke="#111" stroke-width="36"/><text transform="translate(39.67 249) scale(0.92 1)" font-size="12.0">0</text><text transform="translate(45.81 249) scale(0.92 1)" font-size="12.0">0</text><path d="M55.45 313.35H57.65M55.45 299.76H57.65M55.45 286.17H57.65M55.45 272.58H57.65M55.45 258.99H57.65M55.45 245.4H57.65" stroke="#111" stroke-width="1.1"/><text transform="translate(16.1 279.6) rotate(-90)" font-size="11.15" text-anchor="middle">CD4+ naïve</text><text transform="translate(28.7 279.6) rotate(-90)" font-size="11.35" text-anchor="middle">(<tspan dx="0.2">% CD4+ T-cells)</tspan></text><text transform="translate(66.45 327.3) scale(0.965 1)" font-size="11.55">Control</text><text transform="translate(124.1 327.3) scale(0.965 1)" font-size="11.55">ALS</text><g fill="none" stroke="#000" stroke-width="1.0"><circle cx="83.21" cy="279.55" r="1.45"/><circle cx="72.53" cy="286.6" r="1.45"/><circle cx="76.98" cy="287.17" r="1.45"/><circle cx="81.03" cy="287.65" r="1.45"/><circle cx="85.08" cy="287.41" r="1.45"/><circle cx="89.53" cy="287" r="1.45"/><circle cx="93.58" cy="286.03" r="1.45"/><circle cx="81.03" cy="291.86" r="1.45"/><circle cx="85.48" cy="293.48" r="1.45"/><circle cx="67.67" cy="297.53" r="1.45"/><circle cx="70.91" cy="297.94" r="1.45"/><circle cx="74.15" cy="298.34" r="1.45"/><circle cx="77.38" cy="298.74" r="1.45"/><circle cx="80.62" cy="299.15" r="1.45"/><circle cx="83.86" cy="299.31" r="1.45"/><circle cx="87.1" cy="298.99" r="1.45"/><circle cx="90.34" cy="298.5" r="1.45"/><circle cx="93.58" cy="298.18" r="1.45"/><circle cx="97.63" cy="297.53" r="1.45"/><circle cx="67.26" cy="302.39" r="1.45"/><circle cx="70.5" cy="302.79" r="1.45"/><circle cx="74.15" cy="303.6" r="1.45"/><circle cx="77.79" cy="304.41" r="1.45"/><circle cx="81.43" cy="304.41" r="1.45"/><circle cx="85.08" cy="304.41" r="1.45"/><circle cx="88.72" cy="304.01" r="1.45"/><circle cx="91.96" cy="303.36" r="1.45"/><circle cx="95.2" cy="302.79" r="1.45"/><circle cx="98.84" cy="302.23" r="1.45"/><circle cx="74.55" cy="306.84" r="1.45"/><circle cx="78.6" cy="307.25" r="1.45"/><circle cx="82.65" cy="306.44" r="1.45"/><circle cx="87.1" cy="308.06" r="1.45"/><circle cx="91.55" cy="306.84" r="1.45"/><circle cx="83.05" cy="310.08" r="1.45"/></g><g fill="none" stroke="#000" stroke-width="0.85"><rect x="134.78" y="277.77" width="2.7" height="2.7"/><rect x="130.5" y="281.41" width="2.7" height="2.7"/><rect x="132.51" y="285.96" width="2.7" height="2.7"/><rect x="124.31" y="287.78" width="2.7" height="2.7"/><rect x="128.41" y="289.33" width="2.7" height="2.7"/><rect x="140.7" y="287.78" width="2.7" height="2.7"/><rect x="132.51" y="291.43" width="2.7" height="2.7"/><rect x="137.06" y="291.43" width="2.7" height="2.7"/><rect x="117.03" y="293.25" width="2.7" height="2.7"/><rect x="120.21" y="294.43" width="2.7" height="2.7"/><rect x="122.95" y="295.07" width="2.7" height="2.7"/><rect x="125.68" y="296.25" width="2.7" height="2.7"/><rect x="128.86" y="296.44" width="2.7" height="2.7"/><rect x="132.51" y="296.89" width="2.7" height="2.7"/><rect x="136.15" y="296.62" width="2.7" height="2.7"/><rect x="139.79" y="296.25" width="2.7" height="2.7"/><rect x="142.98" y="295.53" width="2.7" height="2.7"/><rect x="145.71" y="294.8" width="2.7" height="2.7"/><rect x="148.45" y="294.16" width="2.7" height="2.7"/><rect x="117.48" y="298.26" width="2.7" height="2.7"/><rect x="121.12" y="298.71" width="2.7" height="2.7"/><rect x="124.77" y="299.17" width="2.7" height="2.7"/><rect x="128.41" y="299.62" width="2.7" height="2.7"/><rect x="132.51" y="299.9" width="2.7" height="2.7"/><rect x="136.61" y="299.62" width="2.7" height="2.7"/><rect x="140.25" y="299.17" width="2.7" height="2.7"/><rect x="144.35" y="298.71" width="2.7" height="2.7"/><rect x="147.99" y="298.26" width="2.7" height="2.7"/><rect x="117.03" y="301.45" width="2.7" height="2.7"/><rect x="120.67" y="301.9" width="2.7" height="2.7"/><rect x="124.31" y="302.36" width="2.7" height="2.7"/><rect x="128.41" y="302.63" width="2.7" height="2.7"/><rect x="132.51" y="302.81" width="2.7" height="2.7"/><rect x="136.61" y="302.63" width="2.7" height="2.7"/><rect x="140.7" y="302.36" width="2.7" height="2.7"/><rect x="144.8" y="301.9" width="2.7" height="2.7"/><rect x="147.99" y="301.45" width="2.7" height="2.7"/><rect x="120.67" y="305.54" width="2.7" height="2.7"/><rect x="124.77" y="306" width="2.7" height="2.7"/><rect x="128.41" y="306.46" width="2.7" height="2.7"/><rect x="132.51" y="306.64" width="2.7" height="2.7"/><rect x="136.61" y="306.27" width="2.7" height="2.7"/><rect x="140.7" y="306" width="2.7" height="2.7"/><rect x="144.8" y="305.54" width="2.7" height="2.7"/><rect x="128.41" y="307.82" width="2.7" height="2.7"/><rect x="132.51" y="309.64" width="2.7" height="2.7"/><rect x="137.06" y="309.64" width="2.7" height="2.7"/><rect x="141.16" y="308.09" width="2.7" height="2.7"/></g><path d="M66.1 297.9H100.1" stroke="#222" stroke-width="1.1"/><path d="M117.25 301H151.25" stroke="#222" stroke-width="1.1"/></g>
<g><text x="168.4" y="234.3" font-size="11.2">G</text><path d="M227.1 244.3V312.25H329.7" fill="none" stroke="#111" stroke-width="1.1"/><text transform="translate(214.61 315.85) scale(0.92 1)" font-size="12.0">0</text><text transform="translate(208.47 302.26) scale(0.92 1)" font-size="12.0">2</text><text transform="translate(214.61 302.26) scale(0.92 1)" font-size="12.0">0</text><text transform="translate(208.47 288.67) scale(0.92 1)" font-size="12.0">4</text><text transform="translate(214.61 288.67) scale(0.92 1)" font-size="12.0">0</text><text transform="translate(208.47 275.08) scale(0.92 1)" font-size="12.0">6</text><text transform="translate(214.61 275.08) scale(0.92 1)" font-size="12.0">0</text><text transform="translate(208.47 261.49) scale(0.92 1)" font-size="12.0">8</text><text transform="translate(214.61 261.49) scale(0.92 1)" font-size="12.0">0</text><path transform="translate(202.33 247.9) scale(0.005391 -0.005859)" d="M763 0H583V1147Q480 1050 223 930V1104Q420 1195 520 1300Q610 1390 649 1472H763Z" fill="#111" stroke="#111" stroke-width="36"/><text transform="translate(208.47 247.9) scale(0.92 1)" font-size="12.0">0</text><text transform="translate(214.61 247.9) scale(0.92 1)" font-size="12.0">0</text><path d="M224.9 312.25H227.1M224.9 298.66H227.1M224.9 285.07H227.1M224.9 271.48H227.1M224.9 257.89H227.1M224.9 244.3H227.1" stroke="#111" stroke-width="1.1"/><text transform="translate(185.8 279.1) rotate(-90)" font-size="11.15" text-anchor="middle">CD4+ memory</text><text transform="translate(198 279.1) rotate(-90)" font-size="11.35" text-anchor="middle">(<tspan dx="0.2">% CD4+ T-cells)</tspan></text><text transform="translate(235.25 326.3) scale(0.965 1)" font-size="11.55">Control</text><text transform="translate(292.5 326.3) scale(0.965 1)" font-size="11.55">ALS</text><g fill="none" stroke="#000" stroke-width="1.0"><circle cx="254.66" cy="286.97" r="1.45"/><circle cx="248.28" cy="290.63" r="1.45"/><circle cx="250.83" cy="291.05" r="1.45"/><circle cx="254.66" cy="295.14" r="1.45"/><circle cx="236.8" cy="297.43" r="1.45"/><circle cx="240.2" cy="298.03" r="1.45"/><circle cx="243.61" cy="299.13" r="1.45"/><circle cx="247.01" cy="300.24" r="1.45"/><circle cx="250.83" cy="300.41" r="1.45"/><circle cx="254.66" cy="300.41" r="1.45"/><circle cx="258.06" cy="299.39" r="1.45"/><circle cx="261.46" cy="298.03" r="1.45"/><circle cx="264.86" cy="297.01" r="1.45"/><circle cx="268.27" cy="296.33" r="1.45"/><circle cx="237.23" cy="302.53" r="1.45"/><circle cx="240.63" cy="302.79" r="1.45"/><circle cx="244.03" cy="302.96" r="1.45"/><circle cx="247.43" cy="303.13" r="1.45"/><circle cx="250.83" cy="303.38" r="1.45"/><circle cx="254.66" cy="303.81" r="1.45"/><circle cx="258.06" cy="303.38" r="1.45"/><circle cx="261.46" cy="302.96" r="1.45"/><circle cx="264.86" cy="302.53" r="1.45"/><circle cx="268.27" cy="302.28" r="1.45"/><circle cx="237.23" cy="306.79" r="1.45"/><circle cx="240.63" cy="307.04" r="1.45"/><circle cx="244.03" cy="307.38" r="1.45"/><circle cx="247.43" cy="307.89" r="1.45"/><circle cx="250.83" cy="308.49" r="1.45"/><circle cx="254.23" cy="309.08" r="1.45"/><circle cx="258.06" cy="308.06" r="1.45"/><circle cx="261.46" cy="307.64" r="1.45"/><circle cx="264.86" cy="307.04" r="1.45"/><circle cx="268.27" cy="306.79" r="1.45"/><circle cx="252.53" cy="310.19" r="1.45"/></g><g fill="none" stroke="#000" stroke-width="0.85"><rect x="302.15" y="284.11" width="2.7" height="2.7"/><rect x="300.05" y="288.85" width="2.7" height="2.7"/><rect x="304.61" y="288.21" width="2.7" height="2.7"/><rect x="287.3" y="291.4" width="2.7" height="2.7"/><rect x="290.95" y="293.22" width="2.7" height="2.7"/><rect x="294.59" y="294.31" width="2.7" height="2.7"/><rect x="298.23" y="294.59" width="2.7" height="2.7"/><rect x="302.33" y="294.86" width="2.7" height="2.7"/><rect x="305.97" y="294.59" width="2.7" height="2.7"/><rect x="309.62" y="294.13" width="2.7" height="2.7"/><rect x="313.26" y="292.77" width="2.7" height="2.7"/><rect x="317.36" y="290.95" width="2.7" height="2.7"/><rect x="294.13" y="296.41" width="2.7" height="2.7"/><rect x="298.23" y="297.78" width="2.7" height="2.7"/><rect x="302.33" y="299.14" width="2.7" height="2.7"/><rect x="305.97" y="299.14" width="2.7" height="2.7"/><rect x="310.07" y="296.86" width="2.7" height="2.7"/><rect x="287.3" y="305.97" width="2.7" height="2.7"/><rect x="290.95" y="306.15" width="2.7" height="2.7"/><rect x="294.59" y="306.43" width="2.7" height="2.7"/><rect x="298.23" y="306.43" width="2.7" height="2.7"/><rect x="301.87" y="306.43" width="2.7" height="2.7"/><rect x="305.52" y="306.43" width="2.7" height="2.7"/><rect x="309.16" y="306.43" width="2.7" height="2.7"/><rect x="312.8" y="306.15" width="2.7" height="2.7"/><rect x="316.9" y="305.97" width="2.7" height="2.7"/><rect x="289.12" y="307.61" width="2.7" height="2.7"/><rect x="292.77" y="307.79" width="2.7" height="2.7"/><rect x="296.41" y="307.98" width="2.7" height="2.7"/><rect x="300.05" y="307.98" width="2.7" height="2.7"/><rect x="303.7" y="307.98" width="2.7" height="2.7"/><rect x="307.34" y="307.98" width="2.7" height="2.7"/><rect x="310.98" y="307.79" width="2.7" height="2.7"/><rect x="314.62" y="307.61" width="2.7" height="2.7"/><rect x="301.42" y="309.62" width="2.7" height="2.7"/><rect x="286.85" y="298.25" width="2.7" height="2.7"/><rect x="290.23" y="299.28" width="2.7" height="2.7"/><rect x="293.61" y="300.05" width="2.7" height="2.7"/><rect x="296.98" y="300.56" width="2.7" height="2.7"/><rect x="300.36" y="300.82" width="2.7" height="2.7"/><rect x="303.74" y="300.82" width="2.7" height="2.7"/><rect x="307.12" y="300.56" width="2.7" height="2.7"/><rect x="310.49" y="300.05" width="2.7" height="2.7"/><rect x="313.87" y="299.28" width="2.7" height="2.7"/><rect x="317.25" y="298.25" width="2.7" height="2.7"/><rect x="287.62" y="299.51" width="2.7" height="2.7"/><rect x="291" y="300.48" width="2.7" height="2.7"/><rect x="294.38" y="301.19" width="2.7" height="2.7"/><rect x="297.76" y="301.64" width="2.7" height="2.7"/><rect x="301.14" y="301.84" width="2.7" height="2.7"/><rect x="304.51" y="301.78" width="2.7" height="2.7"/><rect x="307.89" y="301.47" width="2.7" height="2.7"/><rect x="311.27" y="300.89" width="2.7" height="2.7"/><rect x="314.65" y="300.06" width="2.7" height="2.7"/><rect x="318.02" y="298.98" width="2.7" height="2.7"/><rect x="286.85" y="300.25" width="2.7" height="2.7"/><rect x="290.23" y="301.28" width="2.7" height="2.7"/><rect x="293.61" y="302.05" width="2.7" height="2.7"/><rect x="296.98" y="302.56" width="2.7" height="2.7"/><rect x="300.36" y="302.82" width="2.7" height="2.7"/><rect x="303.74" y="302.82" width="2.7" height="2.7"/><rect x="307.12" y="302.56" width="2.7" height="2.7"/><rect x="310.49" y="302.05" width="2.7" height="2.7"/><rect x="313.87" y="301.28" width="2.7" height="2.7"/><rect x="317.25" y="300.25" width="2.7" height="2.7"/></g><path d="M235.55 302.5H269.55" stroke="#222" stroke-width="1.1"/><path d="M286.7 302.8H320.7" stroke="#222" stroke-width="1.1"/></g>
<g><text x="0.6" y="354.5" font-size="11.2">H</text><path d="M58 364.8V432.75H160.6" fill="none" stroke="#111" stroke-width="1.1"/><text transform="translate(47.11 436.35) scale(0.92 1)" font-size="12.0">0</text><text transform="translate(40.97 422.76) scale(0.92 1)" font-size="12.0">2</text><text transform="translate(47.11 422.76) scale(0.92 1)" font-size="12.0">0</text><text transform="translate(40.97 409.17) scale(0.92 1)" font-size="12.0">4</text><text transform="translate(47.11 409.17) scale(0.92 1)" font-size="12.0">0</text><text transform="translate(40.97 395.58) scale(0.92 1)" font-size="12.0">6</text><text transform="translate(47.11 395.58) scale(0.92 1)" font-size="12.0">0</text><text transform="translate(40.97 381.99) scale(0.92 1)" font-size="12.0">8</text><text transform="translate(47.11 381.99) scale(0.92 1)" font-size="12.0">0</text><path transform="translate(34.83 368.4) scale(0.005391 -0.005859)" d="M763 0H583V1147Q480 1050 223 930V1104Q420 1195 520 1300Q610 1390 649 1472H763Z" fill="#111" stroke="#111" stroke-width="36"/><text transform="translate(40.97 368.4) scale(0.92 1)" font-size="12.0">0</text><text transform="translate(47.11 368.4) scale(0.92 1)" font-size="12.0">0</text><path d="M55.8 432.75H58M55.8 419.16H58M55.8 405.57H58M55.8 391.98H58M55.8 378.39H58M55.8 364.8H58" stroke="#111" stroke-width="1.1"/><text transform="translate(17.5 398.9) rotate(-90)" font-size="11.15" text-anchor="middle">CD8+ naïve</text><text transform="translate(29.7 398.9) rotate(-90)" font-size="11.35" text-anchor="middle">(<tspan dx="0.2">% CD8+ T-cells)</tspan></text><text transform="translate(66.25 448.3) scale(0.965 1)" font-size="11.55">Control</text><text transform="translate(124.1 448.3) scale(0.965 1)" font-size="11.55">ALS</text><g fill="none" stroke="#000" stroke-width="1.0"><circle cx="81.27" cy="393.1" r="1.45"/><circle cx="85.48" cy="392.45" r="1.45"/><circle cx="83.46" cy="399.57" r="1.45"/><circle cx="79.17" cy="403.46" r="1.45"/><circle cx="87.51" cy="405.24" r="1.45"/><circle cx="83.46" cy="406.7" r="1.45"/><circle cx="67.26" cy="411.72" r="1.45"/><circle cx="73.34" cy="412.13" r="1.45"/><circle cx="77.22" cy="412.69" r="1.45"/><circle cx="81.43" cy="414.15" r="1.45"/><circle cx="85.48" cy="411.88" r="1.45"/><circle cx="87.75" cy="414.15" r="1.45"/><circle cx="91.55" cy="413.5" r="1.45"/><circle cx="95.6" cy="412.13" r="1.45"/><circle cx="69.29" cy="415.36" r="1.45"/><circle cx="73.34" cy="416.17" r="1.45"/><circle cx="77.38" cy="415.77" r="1.45"/><circle cx="81.43" cy="415.77" r="1.45"/><circle cx="85.48" cy="415.36" r="1.45"/><circle cx="89.53" cy="416.98" r="1.45"/><circle cx="93.58" cy="415.77" r="1.45"/><circle cx="97.63" cy="414.8" r="1.45"/><circle cx="69.13" cy="419.82" r="1.45"/><circle cx="73.34" cy="420.22" r="1.45"/><circle cx="77.38" cy="417.79" r="1.45"/><circle cx="81.43" cy="418.2" r="1.45"/><circle cx="85.48" cy="418.04" r="1.45"/><circle cx="89.53" cy="416.98" r="1.45"/><circle cx="75.36" cy="423.46" r="1.45"/><circle cx="77.38" cy="422.25" r="1.45"/><circle cx="81.43" cy="423.06" r="1.45"/><circle cx="85.48" cy="423.06" r="1.45"/><circle cx="89.53" cy="422.65" r="1.45"/><circle cx="93.58" cy="421.84" r="1.45"/><circle cx="97.63" cy="420.22" r="1.45"/><circle cx="79.41" cy="425.89" r="1.45"/><circle cx="83.46" cy="427.27" r="1.45"/><circle cx="87.51" cy="426.3" r="1.45"/><circle cx="91.55" cy="425.08" r="1.45"/></g><g fill="none" stroke="#000" stroke-width="0.85"><rect x="131.14" y="388.2" width="2.7" height="2.7"/><rect x="135.06" y="391.66" width="2.7" height="2.7"/><rect x="132.96" y="397.77" width="2.7" height="2.7"/><rect x="128.86" y="402.32" width="2.7" height="2.7"/><rect x="137.06" y="401.41" width="2.7" height="2.7"/><rect x="132.96" y="405.05" width="2.7" height="2.7"/><rect x="147.54" y="405.33" width="2.7" height="2.7"/><rect x="118.85" y="407.51" width="2.7" height="2.7"/><rect x="122.95" y="408.06" width="2.7" height="2.7"/><rect x="127.04" y="408.7" width="2.7" height="2.7"/><rect x="131.14" y="409.61" width="2.7" height="2.7"/><rect x="135.24" y="408.7" width="2.7" height="2.7"/><rect x="139.34" y="408.24" width="2.7" height="2.7"/><rect x="142.98" y="407.78" width="2.7" height="2.7"/><rect x="120.21" y="411.7" width="2.7" height="2.7"/><rect x="124.77" y="412.34" width="2.7" height="2.7"/><rect x="128.86" y="413.7" width="2.7" height="2.7"/><rect x="132.96" y="414.16" width="2.7" height="2.7"/><rect x="137.06" y="413.25" width="2.7" height="2.7"/><rect x="141.16" y="411.88" width="2.7" height="2.7"/><rect x="145.26" y="411.15" width="2.7" height="2.7"/><rect x="117.03" y="415.07" width="2.7" height="2.7"/><rect x="120.67" y="415.34" width="2.7" height="2.7"/><rect x="124.31" y="415.71" width="2.7" height="2.7"/><rect x="128.41" y="415.98" width="2.7" height="2.7"/><rect x="132.51" y="416.25" width="2.7" height="2.7"/><rect x="136.61" y="415.98" width="2.7" height="2.7"/><rect x="140.7" y="415.71" width="2.7" height="2.7"/><rect x="144.8" y="415.34" width="2.7" height="2.7"/><rect x="148.9" y="415.07" width="2.7" height="2.7"/><rect x="118.85" y="416.89" width="2.7" height="2.7"/><rect x="122.49" y="417.17" width="2.7" height="2.7"/><rect x="126.59" y="417.35" width="2.7" height="2.7"/><rect x="130.69" y="417.53" width="2.7" height="2.7"/><rect x="134.33" y="417.53" width="2.7" height="2.7"/><rect x="138.43" y="417.35" width="2.7" height="2.7"/><rect x="142.53" y="417.17" width="2.7" height="2.7"/><rect x="146.62" y="416.89" width="2.7" height="2.7"/><rect x="117.03" y="418.26" width="2.7" height="2.7"/><rect x="120.67" y="418.44" width="2.7" height="2.7"/><rect x="124.31" y="418.71" width="2.7" height="2.7"/><rect x="128.41" y="418.99" width="2.7" height="2.7"/><rect x="132.51" y="419.17" width="2.7" height="2.7"/><rect x="136.61" y="418.99" width="2.7" height="2.7"/><rect x="140.7" y="418.71" width="2.7" height="2.7"/><rect x="144.8" y="418.44" width="2.7" height="2.7"/><rect x="148.9" y="418.26" width="2.7" height="2.7"/><rect x="117.03" y="420.08" width="2.7" height="2.7"/><rect x="120.67" y="420.54" width="2.7" height="2.7"/><rect x="124.31" y="420.99" width="2.7" height="2.7"/><rect x="128.41" y="421.45" width="2.7" height="2.7"/><rect x="132.51" y="421.72" width="2.7" height="2.7"/><rect x="136.61" y="421.45" width="2.7" height="2.7"/><rect x="140.7" y="420.99" width="2.7" height="2.7"/><rect x="144.8" y="420.54" width="2.7" height="2.7"/><rect x="148.9" y="420.08" width="2.7" height="2.7"/><rect x="120.67" y="422.81" width="2.7" height="2.7"/><rect x="124.31" y="423.27" width="2.7" height="2.7"/><rect x="128.41" y="423.72" width="2.7" height="2.7"/><rect x="132.51" y="424.18" width="2.7" height="2.7"/><rect x="136.61" y="423.72" width="2.7" height="2.7"/><rect x="140.7" y="423.27" width="2.7" height="2.7"/><rect x="144.8" y="422.81" width="2.7" height="2.7"/><rect x="122.49" y="425.09" width="2.7" height="2.7"/><rect x="127.04" y="425.73" width="2.7" height="2.7"/><rect x="131.14" y="426.46" width="2.7" height="2.7"/><rect x="135.24" y="426.27" width="2.7" height="2.7"/><rect x="139.34" y="425.54" width="2.7" height="2.7"/><rect x="143.89" y="424.63" width="2.7" height="2.7"/><rect x="131.14" y="428.28" width="2.7" height="2.7"/></g><path d="M66.45 415.4H100.45" stroke="#222" stroke-width="1.1"/><path d="M117.6 418H151.6" stroke="#222" stroke-width="1.1"/></g>
<g><text x="173.1" y="353.5" font-size="11.2">I</text><path d="M227.45 364.2V432.15H330.05" fill="none" stroke="#111" stroke-width="1.1"/><text transform="translate(216.01 435.75) scale(0.92 1)" font-size="12.0">0</text><text transform="translate(209.87 422.16) scale(0.92 1)" font-size="12.0">2</text><text transform="translate(216.01 422.16) scale(0.92 1)" font-size="12.0">0</text><text transform="translate(209.87 408.57) scale(0.92 1)" font-size="12.0">4</text><text transform="translate(216.01 408.57) scale(0.92 1)" font-size="12.0">0</text><text transform="translate(209.87 394.98) scale(0.92 1)" font-size="12.0">6</text><text transform="translate(216.01 394.98) scale(0.92 1)" font-size="12.0">0</text><text transform="translate(209.87 381.39) scale(0.92 1)" font-size="12.0">8</text><text transform="translate(216.01 381.39) scale(0.92 1)" font-size="12.0">0</text><path transform="translate(203.73 367.8) scale(0.005391 -0.005859)" d="M763 0H583V1147Q480 1050 223 930V1104Q420 1195 520 1300Q610 1390 649 1472H763Z" fill="#111" stroke="#111" stroke-width="36"/><text transform="translate(209.87 367.8) scale(0.92 1)" font-size="12.0">0</text><text transform="translate(216.01 367.8) scale(0.92 1)" font-size="12.0">0</text><path d="M225.25 432.15H227.45M225.25 418.56H227.45M225.25 404.97H227.45M225.25 391.38H227.45M225.25 377.79H227.45M225.25 364.2H227.45" stroke="#111" stroke-width="1.1"/><text transform="translate(186.5 398.5) rotate(-90)" font-size="11.15" text-anchor="middle">CD8+ memory</text><text transform="translate(198.7 398.5) rotate(-90)" font-size="11.35" text-anchor="middle">(<tspan dx="0.2">% CD8+ T-cells)</tspan></text><text transform="translate(236.45 447.3) scale(0.965 1)" font-size="11.55">Control</text><text transform="translate(294.1 447.3) scale(0.965 1)" font-size="11.55">ALS</text><g fill="none" stroke="#000" stroke-width="1.0"><circle cx="255.01" cy="406.87" r="1.45"/><circle cx="248.63" cy="410.53" r="1.45"/><circle cx="251.18" cy="410.95" r="1.45"/><circle cx="255.01" cy="415.04" r="1.45"/><circle cx="237.15" cy="417.33" r="1.45"/><circle cx="240.55" cy="417.93" r="1.45"/><circle cx="243.96" cy="419.03" r="1.45"/><circle cx="247.36" cy="420.14" r="1.45"/><circle cx="251.18" cy="420.31" r="1.45"/><circle cx="255.01" cy="420.31" r="1.45"/><circle cx="258.41" cy="419.29" r="1.45"/><circle cx="261.81" cy="417.93" r="1.45"/><circle cx="265.21" cy="416.91" r="1.45"/><circle cx="268.62" cy="416.23" r="1.45"/><circle cx="237.58" cy="422.43" r="1.45"/><circle cx="240.98" cy="422.69" r="1.45"/><circle cx="244.38" cy="422.86" r="1.45"/><circle cx="247.78" cy="423.03" r="1.45"/><circle cx="251.18" cy="423.28" r="1.45"/><circle cx="255.01" cy="423.71" r="1.45"/><circle cx="258.41" cy="423.28" r="1.45"/><circle cx="261.81" cy="422.86" r="1.45"/><circle cx="265.21" cy="422.43" r="1.45"/><circle cx="268.62" cy="422.18" r="1.45"/><circle cx="237.58" cy="426.69" r="1.45"/><circle cx="240.98" cy="426.94" r="1.45"/><circle cx="244.38" cy="427.28" r="1.45"/><circle cx="247.78" cy="427.79" r="1.45"/><circle cx="251.18" cy="428.39" r="1.45"/><circle cx="254.58" cy="428.98" r="1.45"/><circle cx="258.41" cy="427.96" r="1.45"/><circle cx="261.81" cy="427.54" r="1.45"/><circle cx="265.21" cy="426.94" r="1.45"/><circle cx="268.62" cy="426.69" r="1.45"/><circle cx="252.88" cy="430.09" r="1.45"/></g><g fill="none" stroke="#000" stroke-width="0.85"><rect x="302.5" y="404.01" width="2.7" height="2.7"/><rect x="300.4" y="408.75" width="2.7" height="2.7"/><rect x="304.96" y="408.11" width="2.7" height="2.7"/><rect x="287.65" y="411.3" width="2.7" height="2.7"/><rect x="291.3" y="413.12" width="2.7" height="2.7"/><rect x="294.94" y="414.21" width="2.7" height="2.7"/><rect x="298.58" y="414.49" width="2.7" height="2.7"/><rect x="302.68" y="414.76" width="2.7" height="2.7"/><rect x="306.32" y="414.49" width="2.7" height="2.7"/><rect x="309.97" y="414.03" width="2.7" height="2.7"/><rect x="313.61" y="412.67" width="2.7" height="2.7"/><rect x="317.71" y="410.85" width="2.7" height="2.7"/><rect x="294.48" y="416.31" width="2.7" height="2.7"/><rect x="298.58" y="417.68" width="2.7" height="2.7"/><rect x="302.68" y="419.04" width="2.7" height="2.7"/><rect x="306.32" y="419.04" width="2.7" height="2.7"/><rect x="310.42" y="416.76" width="2.7" height="2.7"/><rect x="287.65" y="425.87" width="2.7" height="2.7"/><rect x="291.3" y="426.05" width="2.7" height="2.7"/><rect x="294.94" y="426.33" width="2.7" height="2.7"/><rect x="298.58" y="426.33" width="2.7" height="2.7"/><rect x="302.22" y="426.33" width="2.7" height="2.7"/><rect x="305.87" y="426.33" width="2.7" height="2.7"/><rect x="309.51" y="426.33" width="2.7" height="2.7"/><rect x="313.15" y="426.05" width="2.7" height="2.7"/><rect x="317.25" y="425.87" width="2.7" height="2.7"/><rect x="289.47" y="427.51" width="2.7" height="2.7"/><rect x="293.12" y="427.69" width="2.7" height="2.7"/><rect x="296.76" y="427.88" width="2.7" height="2.7"/><rect x="300.4" y="427.88" width="2.7" height="2.7"/><rect x="304.05" y="427.88" width="2.7" height="2.7"/><rect x="307.69" y="427.88" width="2.7" height="2.7"/><rect x="311.33" y="427.69" width="2.7" height="2.7"/><rect x="314.97" y="427.51" width="2.7" height="2.7"/><rect x="301.77" y="429.52" width="2.7" height="2.7"/><rect x="287.2" y="418.15" width="2.7" height="2.7"/><rect x="290.58" y="419.18" width="2.7" height="2.7"/><rect x="293.96" y="419.95" width="2.7" height="2.7"/><rect x="297.33" y="420.46" width="2.7" height="2.7"/><rect x="300.71" y="420.72" width="2.7" height="2.7"/><rect x="304.09" y="420.72" width="2.7" height="2.7"/><rect x="307.47" y="420.46" width="2.7" height="2.7"/><rect x="310.84" y="419.95" width="2.7" height="2.7"/><rect x="314.22" y="419.18" width="2.7" height="2.7"/><rect x="317.6" y="418.15" width="2.7" height="2.7"/><rect x="287.97" y="419.41" width="2.7" height="2.7"/><rect x="291.35" y="420.38" width="2.7" height="2.7"/><rect x="294.73" y="421.09" width="2.7" height="2.7"/><rect x="298.11" y="421.54" width="2.7" height="2.7"/><rect x="301.49" y="421.74" width="2.7" height="2.7"/><rect x="304.86" y="421.68" width="2.7" height="2.7"/><rect x="308.24" y="421.37" width="2.7" height="2.7"/><rect x="311.62" y="420.79" width="2.7" height="2.7"/><rect x="315" y="419.96" width="2.7" height="2.7"/><rect x="318.37" y="418.88" width="2.7" height="2.7"/><rect x="287.2" y="420.15" width="2.7" height="2.7"/><rect x="290.58" y="421.18" width="2.7" height="2.7"/><rect x="293.96" y="421.95" width="2.7" height="2.7"/><rect x="297.33" y="422.46" width="2.7" height="2.7"/><rect x="300.71" y="422.72" width="2.7" height="2.7"/><rect x="304.09" y="422.72" width="2.7" height="2.7"/><rect x="307.47" y="422.46" width="2.7" height="2.7"/><rect x="310.84" y="421.95" width="2.7" height="2.7"/><rect x="314.22" y="421.18" width="2.7" height="2.7"/><rect x="317.6" y="420.15" width="2.7" height="2.7"/></g><path d="M235.9 422.4H269.9" stroke="#222" stroke-width="1.1"/><path d="M287.05 422.7H321.05" stroke="#222" stroke-width="1.1"/></g>
<g><text x="2.5" y="474.3" font-size="11.2">J</text><path d="M58.9 484.8V552.75H161.5" fill="none" stroke="#111" stroke-width="1.1"/><text transform="translate(44.91 556.35) scale(0.92 1)" font-size="12.0">0</text><path transform="translate(38.77 542.76) scale(0.005391 -0.005859)" d="M763 0H583V1147Q480 1050 223 930V1104Q420 1195 520 1300Q610 1390 649 1472H763Z" fill="#111" stroke="#111" stroke-width="36"/><text transform="translate(44.91 542.76) scale(0.92 1)" font-size="12.0">0</text><text transform="translate(38.77 529.17) scale(0.92 1)" font-size="12.0">2</text><text transform="translate(44.91 529.17) scale(0.92 1)" font-size="12.0">0</text><text transform="translate(38.77 515.58) scale(0.92 1)" font-size="12.0">3</text><text transform="translate(44.91 515.58) scale(0.92 1)" font-size="12.0">0</text><text transform="translate(38.77 501.99) scale(0.92 1)" font-size="12.0">4</text><text transform="translate(44.91 501.99) scale(0.92 1)" font-size="12.0">0</text><text transform="translate(38.77 488.4) scale(0.92 1)" font-size="12.0">5</text><text transform="translate(44.91 488.4) scale(0.92 1)" font-size="12.0">0</text><path d="M56.7 552.75H58.9M56.7 539.16H58.9M56.7 525.57H58.9M56.7 511.98H58.9M56.7 498.39H58.9M56.7 484.8H58.9" stroke="#111" stroke-width="1.1"/><text transform="translate(16.9 519.5) rotate(-90)" font-size="11.15" text-anchor="middle">Th1 cells</text><text transform="translate(28.7 519.5) rotate(-90)" font-size="11.35" text-anchor="middle">(<tspan dx="0.2">% CD4+ T-cells)</tspan></text><text transform="translate(67.45 567.3) scale(0.965 1)" font-size="11.55">Control</text><text transform="translate(125.5 567.3) scale(0.965 1)" font-size="11.55">ALS</text><g fill="none" stroke="#000" stroke-width="1.0"><circle cx="84.27" cy="524.31" r="1.45"/><circle cx="76.17" cy="534.03" r="1.45"/><circle cx="92.36" cy="533.22" r="1.45"/><circle cx="80.22" cy="536.21" r="1.45"/><circle cx="84.27" cy="536.86" r="1.45"/><circle cx="88.32" cy="536.21" r="1.45"/><circle cx="94.39" cy="536.86" r="1.45"/><circle cx="74.15" cy="538.48" r="1.45"/><circle cx="78.19" cy="539.7" r="1.45"/><circle cx="90.34" cy="538.64" r="1.45"/><circle cx="82.24" cy="540.91" r="1.45"/><circle cx="86.29" cy="540.91" r="1.45"/><circle cx="69.29" cy="542.13" r="1.45"/><circle cx="72.53" cy="542.69" r="1.45"/><circle cx="76.17" cy="542.94" r="1.45"/><circle cx="79.81" cy="543.18" r="1.45"/><circle cx="83.46" cy="543.18" r="1.45"/><circle cx="87.1" cy="543.18" r="1.45"/><circle cx="90.74" cy="542.94" r="1.45"/><circle cx="94.39" cy="542.53" r="1.45"/><circle cx="98.03" cy="542.13" r="1.45"/><circle cx="71.72" cy="545.77" r="1.45"/><circle cx="75.36" cy="545.12" r="1.45"/><circle cx="79" cy="545.77" r="1.45"/><circle cx="82.65" cy="546.17" r="1.45"/><circle cx="86.29" cy="545.77" r="1.45"/><circle cx="89.94" cy="545.36" r="1.45"/><circle cx="93.58" cy="544.96" r="1.45"/><circle cx="68.48" cy="546.98" r="1.45"/><circle cx="71.72" cy="547.79" r="1.45"/><circle cx="74.96" cy="548.36" r="1.45"/><circle cx="78.19" cy="548.6" r="1.45"/><circle cx="81.43" cy="548.85" r="1.45"/><circle cx="84.67" cy="548.36" r="1.45"/><circle cx="87.91" cy="548.2" r="1.45"/><circle cx="91.15" cy="547.79" r="1.45"/><circle cx="94.39" cy="547.39" r="1.45"/><circle cx="97.63" cy="546.98" r="1.45"/><circle cx="100.46" cy="546.58" r="1.45"/><circle cx="80.62" cy="549.98" r="1.45"/><circle cx="83.46" cy="550.22" r="1.45"/><circle cx="86.29" cy="549.98" r="1.45"/><circle cx="89.13" cy="549.66" r="1.45"/></g><g fill="none" stroke="#000" stroke-width="0.85"><rect x="127.5" y="513.5" width="2.7" height="2.7"/><rect x="132.05" y="515.69" width="2.7" height="2.7"/><rect x="136.15" y="516.87" width="2.7" height="2.7"/><rect x="140.25" y="514.78" width="2.7" height="2.7"/><rect x="125.68" y="518.97" width="2.7" height="2.7"/><rect x="129.78" y="520.06" width="2.7" height="2.7"/><rect x="137.97" y="520.52" width="2.7" height="2.7"/><rect x="142.07" y="519.33" width="2.7" height="2.7"/><rect x="133.87" y="522.79" width="2.7" height="2.7"/><rect x="119.3" y="525.07" width="2.7" height="2.7"/><rect x="123.86" y="525.71" width="2.7" height="2.7"/><rect x="127.95" y="526.89" width="2.7" height="2.7"/><rect x="132.05" y="527.35" width="2.7" height="2.7"/><rect x="136.15" y="527.35" width="2.7" height="2.7"/><rect x="140.25" y="527.17" width="2.7" height="2.7"/><rect x="144.35" y="526.44" width="2.7" height="2.7"/><rect x="148.45" y="525.34" width="2.7" height="2.7"/><rect x="118.85" y="528.26" width="2.7" height="2.7"/><rect x="122.95" y="529.17" width="2.7" height="2.7"/><rect x="127.04" y="529.62" width="2.7" height="2.7"/><rect x="131.14" y="530.08" width="2.7" height="2.7"/><rect x="134.78" y="530.08" width="2.7" height="2.7"/><rect x="138.88" y="529.9" width="2.7" height="2.7"/><rect x="142.98" y="529.62" width="2.7" height="2.7"/><rect x="147.08" y="528.71" width="2.7" height="2.7"/><rect x="119.3" y="532.81" width="2.7" height="2.7"/><rect x="123.4" y="532.99" width="2.7" height="2.7"/><rect x="127.04" y="533.27" width="2.7" height="2.7"/><rect x="130.69" y="533.27" width="2.7" height="2.7"/><rect x="134.33" y="532.81" width="2.7" height="2.7"/><rect x="137.97" y="532.81" width="2.7" height="2.7"/><rect x="141.62" y="532.99" width="2.7" height="2.7"/><rect x="145.26" y="533.27" width="2.7" height="2.7"/><rect x="148.9" y="532.81" width="2.7" height="2.7"/><rect x="119.3" y="536" width="2.7" height="2.7"/><rect x="123.4" y="536.27" width="2.7" height="2.7"/><rect x="127.04" y="536.46" width="2.7" height="2.7"/><rect x="130.69" y="536.64" width="2.7" height="2.7"/><rect x="134.33" y="536.46" width="2.7" height="2.7"/><rect x="137.97" y="536.46" width="2.7" height="2.7"/><rect x="141.62" y="536.27" width="2.7" height="2.7"/><rect x="145.26" y="536" width="2.7" height="2.7"/><rect x="148.9" y="535.73" width="2.7" height="2.7"/><rect x="119.3" y="538.73" width="2.7" height="2.7"/><rect x="123.4" y="539.01" width="2.7" height="2.7"/><rect x="127.04" y="539.19" width="2.7" height="2.7"/><rect x="130.69" y="539.37" width="2.7" height="2.7"/><rect x="134.33" y="539.19" width="2.7" height="2.7"/><rect x="137.97" y="539.19" width="2.7" height="2.7"/><rect x="141.62" y="539.01" width="2.7" height="2.7"/><rect x="145.26" y="538.73" width="2.7" height="2.7"/><rect x="148.9" y="538.73" width="2.7" height="2.7"/><rect x="118.85" y="541.46" width="2.7" height="2.7"/><rect x="122.49" y="541.46" width="2.7" height="2.7"/><rect x="126.13" y="541.92" width="2.7" height="2.7"/><rect x="130.23" y="541.92" width="2.7" height="2.7"/><rect x="133.87" y="541.74" width="2.7" height="2.7"/><rect x="137.52" y="541.92" width="2.7" height="2.7"/><rect x="141.16" y="541.74" width="2.7" height="2.7"/><rect x="145.26" y="541.46" width="2.7" height="2.7"/><rect x="148.9" y="541.46" width="2.7" height="2.7"/><rect x="125.68" y="545.56" width="2.7" height="2.7"/><rect x="129.78" y="544.65" width="2.7" height="2.7"/><rect x="133.87" y="545.11" width="2.7" height="2.7"/><rect x="137.97" y="544.65" width="2.7" height="2.7"/><rect x="142.07" y="546.02" width="2.7" height="2.7"/><rect x="129.78" y="548.29" width="2.7" height="2.7"/><rect x="133.87" y="549.66" width="2.7" height="2.7"/><rect x="137.97" y="548.75" width="2.7" height="2.7"/></g><path d="M67.35 542.5H101.35" stroke="#222" stroke-width="1.1"/><path d="M118.5 534.6H152.5" stroke="#222" stroke-width="1.1"/><path d="M83.4 487V484.1H135.8V487" fill="none" stroke="#111" stroke-width="1.1"/><polygon points="106.05,476.45 106.58,477.77 108,477.87 106.91,478.78 107.25,480.16 106.05,479.4 104.85,480.16 105.19,478.78 104.1,477.87 105.52,477.77" fill="#111"/><polygon points="109.8,476.45 110.33,477.77 111.75,477.87 110.66,478.78 111,480.16 109.8,479.4 108.6,480.16 108.94,478.78 107.85,477.87 109.27,477.77" fill="#111"/><polygon points="113.55,476.45 114.08,477.77 115.5,477.87 114.41,478.78 114.75,480.16 113.55,479.4 112.35,480.16 112.69,478.78 111.6,477.87 113.02,477.77" fill="#111"/></g>
<g><text x="171.1" y="471.7" font-size="11.2">K</text><path d="M228 482.5V550.45H330.6" fill="none" stroke="#111" stroke-width="1.1"/><text transform="translate(214.81 554.05) scale(0.92 1)" font-size="12.0">0</text><path transform="translate(208.67 540.46) scale(0.005391 -0.005859)" d="M763 0H583V1147Q480 1050 223 930V1104Q420 1195 520 1300Q610 1390 649 1472H763Z" fill="#111" stroke="#111" stroke-width="36"/><text transform="translate(214.81 540.46) scale(0.92 1)" font-size="12.0">0</text><text transform="translate(208.67 526.87) scale(0.92 1)" font-size="12.0">2</text><text transform="translate(214.81 526.87) scale(0.92 1)" font-size="12.0">0</text><text transform="translate(208.67 513.28) scale(0.92 1)" font-size="12.0">3</text><text transform="translate(214.81 513.28) scale(0.92 1)" font-size="12.0">0</text><text transform="translate(208.67 499.69) scale(0.92 1)" font-size="12.0">4</text><text transform="translate(214.81 499.69) scale(0.92 1)" font-size="12.0">0</text><text transform="translate(208.67 486.1) scale(0.92 1)" font-size="12.0">5</text><text transform="translate(214.81 486.1) scale(0.92 1)" font-size="12.0">0</text><path d="M225.8 550.45H228M225.8 536.86H228M225.8 523.27H228M225.8 509.68H228M225.8 496.09H228M225.8 482.5H228" stroke="#111" stroke-width="1.1"/><text transform="translate(186.1 516.7) rotate(-90)" font-size="11.15" text-anchor="middle">Th2 cells</text><text transform="translate(198.3 516.7) rotate(-90)" font-size="11.35" text-anchor="middle">(<tspan dx="0.2">% CD4+ T-cells)</tspan></text><text transform="translate(236.85 565.3) scale(0.965 1)" font-size="11.55">Control</text><text transform="translate(294.7 565.3) scale(0.965 1)" font-size="11.55">ALS</text><g fill="none" stroke="#000" stroke-width="1.0"><circle cx="253.64" cy="514.18" r="1.45"/><circle cx="253.64" cy="524.13" r="1.45"/><circle cx="247.43" cy="527.79" r="1.45"/><circle cx="251.68" cy="529.66" r="1.45"/><circle cx="255.51" cy="530.34" r="1.45"/><circle cx="259.76" cy="528.13" r="1.45"/><circle cx="241.05" cy="530.51" r="1.45"/><circle cx="245.31" cy="532.04" r="1.45"/><circle cx="265.71" cy="531.53" r="1.45"/><circle cx="249.56" cy="534.34" r="1.45"/><circle cx="253.38" cy="534.59" r="1.45"/><circle cx="257.64" cy="534.34" r="1.45"/><circle cx="261.46" cy="534.34" r="1.45"/><circle cx="238.08" cy="535.61" r="1.45"/><circle cx="241.48" cy="536.04" r="1.45"/><circle cx="244.88" cy="536.29" r="1.45"/><circle cx="248.28" cy="536.46" r="1.45"/><circle cx="251.68" cy="536.46" r="1.45"/><circle cx="255.51" cy="536.46" r="1.45"/><circle cx="258.91" cy="536.29" r="1.45"/><circle cx="262.31" cy="536.04" r="1.45"/><circle cx="265.71" cy="535.78" r="1.45"/><circle cx="268.69" cy="535.61" r="1.45"/><circle cx="245.31" cy="537.74" r="1.45"/><circle cx="248.28" cy="537.99" r="1.45"/><circle cx="251.68" cy="538.33" r="1.45"/><circle cx="255.09" cy="538.16" r="1.45"/><circle cx="258.91" cy="537.74" r="1.45"/><circle cx="262.31" cy="537.48" r="1.45"/><circle cx="238.08" cy="540.54" r="1.45"/><circle cx="241.48" cy="540.71" r="1.45"/><circle cx="244.46" cy="541.14" r="1.45"/><circle cx="247.86" cy="541.99" r="1.45"/><circle cx="251.26" cy="542.41" r="1.45"/><circle cx="254.66" cy="542.41" r="1.45"/><circle cx="258.06" cy="542.24" r="1.45"/><circle cx="261.46" cy="541.56" r="1.45"/><circle cx="264.86" cy="541.14" r="1.45"/><circle cx="268.27" cy="540.71" r="1.45"/><circle cx="253.38" cy="543.69" r="1.45"/><circle cx="256.36" cy="543.27" r="1.45"/></g><g fill="none" stroke="#000" stroke-width="0.85"><rect x="303.06" y="524.86" width="2.7" height="2.7"/><rect x="292.77" y="528.69" width="2.7" height="2.7"/><rect x="296.86" y="529.78" width="2.7" height="2.7"/><rect x="300.96" y="530.05" width="2.7" height="2.7"/><rect x="305.06" y="530.05" width="2.7" height="2.7"/><rect x="309.16" y="529.78" width="2.7" height="2.7"/><rect x="313.26" y="527.96" width="2.7" height="2.7"/><rect x="287.3" y="530.51" width="2.7" height="2.7"/><rect x="318.72" y="532.33" width="2.7" height="2.7"/><rect x="290.49" y="533.06" width="2.7" height="2.7"/><rect x="294.13" y="533.42" width="2.7" height="2.7"/><rect x="297.78" y="534.15" width="2.7" height="2.7"/><rect x="301.42" y="534.33" width="2.7" height="2.7"/><rect x="305.06" y="534.33" width="2.7" height="2.7"/><rect x="308.7" y="533.97" width="2.7" height="2.7"/><rect x="312.35" y="533.42" width="2.7" height="2.7"/><rect x="315.99" y="532.78" width="2.7" height="2.7"/><rect x="286.85" y="535.06" width="2.7" height="2.7"/><rect x="290.49" y="535.52" width="2.7" height="2.7"/><rect x="294.13" y="535.97" width="2.7" height="2.7"/><rect x="297.78" y="536.43" width="2.7" height="2.7"/><rect x="301.87" y="536.7" width="2.7" height="2.7"/><rect x="305.97" y="536.43" width="2.7" height="2.7"/><rect x="309.62" y="535.97" width="2.7" height="2.7"/><rect x="313.26" y="535.52" width="2.7" height="2.7"/><rect x="317.36" y="535.06" width="2.7" height="2.7"/><rect x="286.85" y="538.7" width="2.7" height="2.7"/><rect x="290.49" y="539.16" width="2.7" height="2.7"/><rect x="294.13" y="539.62" width="2.7" height="2.7"/><rect x="297.78" y="540.07" width="2.7" height="2.7"/><rect x="301.87" y="540.34" width="2.7" height="2.7"/><rect x="305.97" y="540.07" width="2.7" height="2.7"/><rect x="309.62" y="539.62" width="2.7" height="2.7"/><rect x="313.26" y="539.16" width="2.7" height="2.7"/><rect x="317.36" y="538.7" width="2.7" height="2.7"/><rect x="288.67" y="540.53" width="2.7" height="2.7"/><rect x="292.31" y="540.98" width="2.7" height="2.7"/><rect x="296.41" y="541.44" width="2.7" height="2.7"/><rect x="300.51" y="541.62" width="2.7" height="2.7"/><rect x="304.61" y="541.62" width="2.7" height="2.7"/><rect x="308.7" y="541.44" width="2.7" height="2.7"/><rect x="312.35" y="540.98" width="2.7" height="2.7"/><rect x="315.99" y="540.53" width="2.7" height="2.7"/><rect x="287.76" y="543.44" width="2.7" height="2.7"/><rect x="291.86" y="543.71" width="2.7" height="2.7"/><rect x="295.5" y="543.26" width="2.7" height="2.7"/><rect x="299.6" y="543.08" width="2.7" height="2.7"/><rect x="303.24" y="543.08" width="2.7" height="2.7"/><rect x="306.88" y="543.26" width="2.7" height="2.7"/><rect x="310.53" y="544.35" width="2.7" height="2.7"/><rect x="314.17" y="543.71" width="2.7" height="2.7"/><rect x="317.81" y="543.26" width="2.7" height="2.7"/><rect x="299.14" y="545.54" width="2.7" height="2.7"/><rect x="303.24" y="547.36" width="2.7" height="2.7"/><rect x="307.34" y="545.99" width="2.7" height="2.7"/></g><path d="M236.45 535.8H270.45" stroke="#222" stroke-width="1.1"/><path d="M287.6 538H321.6" stroke="#222" stroke-width="1.1"/><path d="M252.3 485.2V482.3H305V485.2" fill="none" stroke="#111" stroke-width="1.1"/><polygon points="277.6,475.5 278.13,476.82 279.55,476.92 278.46,477.83 278.8,479.21 277.6,478.45 276.4,479.21 276.74,477.83 275.65,476.92 277.07,476.82" fill="#111"/></g>
<g><text x="335.4" y="472.4" font-size="11.2">L</text><path d="M391 481.5V549.45H493.6" fill="none" stroke="#111" stroke-width="1.1"/><text transform="translate(377.86 553.05) scale(0.92 1)" font-size="12.0">0</text><path transform="translate(377.86 539.46) scale(0.005391 -0.005859)" d="M763 0H583V1147Q480 1050 223 930V1104Q420 1195 520 1300Q610 1390 649 1472H763Z" fill="#111" stroke="#111" stroke-width="36"/><text transform="translate(377.86 525.87) scale(0.92 1)" font-size="12.0">2</text><text transform="translate(377.86 512.28) scale(0.92 1)" font-size="12.0">3</text><text transform="translate(377.86 498.69) scale(0.92 1)" font-size="12.0">4</text><text transform="translate(377.86 485.1) scale(0.92 1)" font-size="12.0">5</text><path d="M388.8 549.45H391M388.8 535.86H391M388.8 522.27H391M388.8 508.68H391M388.8 495.09H391M388.8 481.5H391" stroke="#111" stroke-width="1.1"/><text transform="translate(352.9 515.9) rotate(-90)" font-size="11.15" text-anchor="middle">Ratio of</text><text transform="translate(365.5 515.9) rotate(-90)" font-size="11.35" text-anchor="middle">Th1/Th2 cells</text><text transform="translate(398.45 564.9) scale(0.965 1)" font-size="11.55">Control</text><text transform="translate(456.1 564.9) scale(0.965 1)" font-size="11.55">ALS</text><g fill="none" stroke="#000" stroke-width="1.0"><circle cx="416.68" cy="517.48" r="1.45"/><circle cx="418.81" cy="527.43" r="1.45"/><circle cx="414.56" cy="529.56" r="1.45"/><circle cx="408.61" cy="531.94" r="1.45"/><circle cx="412.43" cy="532.53" r="1.45"/><circle cx="420.51" cy="531.94" r="1.45"/><circle cx="424.76" cy="531.43" r="1.45"/><circle cx="416.68" cy="534.49" r="1.45"/><circle cx="404.35" cy="535.51" r="1.45"/><circle cx="429.01" cy="535.68" r="1.45"/><circle cx="408.18" cy="537.64" r="1.45"/><circle cx="412.43" cy="538.06" r="1.45"/><circle cx="416.68" cy="538.91" r="1.45"/><circle cx="420.51" cy="538.23" r="1.45"/><circle cx="424.76" cy="537.64" r="1.45"/><circle cx="400.53" cy="539.93" r="1.45"/><circle cx="403.93" cy="540.19" r="1.45"/><circle cx="407.33" cy="540.19" r="1.45"/><circle cx="410.73" cy="540.44" r="1.45"/><circle cx="414.13" cy="540.61" r="1.45"/><circle cx="417.53" cy="540.61" r="1.45"/><circle cx="420.94" cy="540.61" r="1.45"/><circle cx="424.34" cy="540.44" r="1.45"/><circle cx="428.16" cy="540.19" r="1.45"/><circle cx="431.99" cy="539.93" r="1.45"/><circle cx="403.5" cy="542.14" r="1.45"/><circle cx="407.33" cy="542.31" r="1.45"/><circle cx="410.73" cy="542.74" r="1.45"/><circle cx="414.13" cy="543.16" r="1.45"/><circle cx="417.53" cy="543.33" r="1.45"/><circle cx="420.94" cy="543.33" r="1.45"/><circle cx="424.34" cy="542.74" r="1.45"/><circle cx="427.74" cy="542.31" r="1.45"/><circle cx="431.56" cy="541.89" r="1.45"/><circle cx="402.23" cy="544.86" r="1.45"/><circle cx="406.05" cy="545.54" r="1.45"/><circle cx="409.88" cy="545.88" r="1.45"/><circle cx="414.13" cy="546.56" r="1.45"/><circle cx="417.96" cy="546.56" r="1.45"/><circle cx="422.21" cy="545.88" r="1.45"/><circle cx="426.04" cy="545.29" r="1.45"/><circle cx="429.86" cy="544.86" r="1.45"/><circle cx="414.56" cy="548.27" r="1.45"/></g><g fill="none" stroke="#000" stroke-width="0.85"><rect x="466.15" y="486.39" width="2.7" height="2.7"/><rect x="462.05" y="488.05" width="2.7" height="2.7"/><rect x="470.26" y="490.3" width="2.7" height="2.7"/><rect x="466.15" y="491.67" width="2.7" height="2.7"/><rect x="466.15" y="497.84" width="2.7" height="2.7"/><rect x="462.05" y="501.07" width="2.7" height="2.7"/><rect x="470.26" y="502.05" width="2.7" height="2.7"/><rect x="466.15" y="503.22" width="2.7" height="2.7"/><rect x="464" y="511.54" width="2.7" height="2.7"/><rect x="468.31" y="513.2" width="2.7" height="2.7"/><rect x="455.88" y="516.43" width="2.7" height="2.7"/><rect x="460.09" y="517.9" width="2.7" height="2.7"/><rect x="464.2" y="519.36" width="2.7" height="2.7"/><rect x="468.11" y="517.9" width="2.7" height="2.7"/><rect x="472.03" y="517.41" width="2.7" height="2.7"/><rect x="476.43" y="515.94" width="2.7" height="2.7"/><rect x="458.13" y="521.32" width="2.7" height="2.7"/><rect x="462.24" y="522.79" width="2.7" height="2.7"/><rect x="466.15" y="522.79" width="2.7" height="2.7"/><rect x="470.26" y="522.79" width="2.7" height="2.7"/><rect x="474.77" y="520.05" width="2.7" height="2.7"/><rect x="450.5" y="524.75" width="2.7" height="2.7"/><rect x="454.41" y="524.94" width="2.7" height="2.7"/><rect x="458.33" y="525.24" width="2.7" height="2.7"/><rect x="462.24" y="525.53" width="2.7" height="2.7"/><rect x="466.15" y="525.72" width="2.7" height="2.7"/><rect x="470.07" y="525.53" width="2.7" height="2.7"/><rect x="473.98" y="525.24" width="2.7" height="2.7"/><rect x="477.9" y="524.94" width="2.7" height="2.7"/><rect x="481.81" y="524.55" width="2.7" height="2.7"/><rect x="457.84" y="526.7" width="2.7" height="2.7"/><rect x="461.75" y="527.19" width="2.7" height="2.7"/><rect x="466.15" y="528.17" width="2.7" height="2.7"/><rect x="470.56" y="526.7" width="2.7" height="2.7"/><rect x="450.99" y="529.64" width="2.7" height="2.7"/><rect x="454.9" y="530.13" width="2.7" height="2.7"/><rect x="458.82" y="530.62" width="2.7" height="2.7"/><rect x="462.73" y="530.42" width="2.7" height="2.7"/><rect x="467.13" y="530.42" width="2.7" height="2.7"/><rect x="471.05" y="530.13" width="2.7" height="2.7"/><rect x="474.96" y="530.42" width="2.7" height="2.7"/><rect x="478.88" y="530.42" width="2.7" height="2.7"/><rect x="481.32" y="529.64" width="2.7" height="2.7"/><rect x="450.99" y="533.06" width="2.7" height="2.7"/><rect x="454.9" y="533.55" width="2.7" height="2.7"/><rect x="458.82" y="534.04" width="2.7" height="2.7"/><rect x="462.73" y="532.57" width="2.7" height="2.7"/><rect x="466.15" y="532.57" width="2.7" height="2.7"/><rect x="470.07" y="532.57" width="2.7" height="2.7"/><rect x="473.98" y="532.08" width="2.7" height="2.7"/><rect x="477.9" y="533.55" width="2.7" height="2.7"/><rect x="481.32" y="533.06" width="2.7" height="2.7"/><rect x="451.48" y="534.73" width="2.7" height="2.7"/><rect x="455.39" y="535.02" width="2.7" height="2.7"/><rect x="459.31" y="535.31" width="2.7" height="2.7"/><rect x="463.22" y="535.02" width="2.7" height="2.7"/><rect x="467.13" y="535.02" width="2.7" height="2.7"/><rect x="471.05" y="535.02" width="2.7" height="2.7"/><rect x="474.96" y="534.73" width="2.7" height="2.7"/><rect x="478.88" y="534.73" width="2.7" height="2.7"/><rect x="450.99" y="536.49" width="2.7" height="2.7"/><rect x="454.9" y="536.98" width="2.7" height="2.7"/><rect x="458.82" y="537.27" width="2.7" height="2.7"/><rect x="462.73" y="536.98" width="2.7" height="2.7"/><rect x="467.13" y="536.98" width="2.7" height="2.7"/><rect x="471.05" y="537.27" width="2.7" height="2.7"/><rect x="474.96" y="536.68" width="2.7" height="2.7"/><rect x="478.88" y="536.49" width="2.7" height="2.7"/><rect x="481.32" y="536.49" width="2.7" height="2.7"/><rect x="454.41" y="539.42" width="2.7" height="2.7"/><rect x="458.33" y="539.62" width="2.7" height="2.7"/><rect x="462.73" y="541.38" width="2.7" height="2.7"/><rect x="467.13" y="540.21" width="2.7" height="2.7"/><rect x="471.05" y="539.42" width="2.7" height="2.7"/><rect x="474.96" y="538.93" width="2.7" height="2.7"/><rect x="464" y="544.32" width="2.7" height="2.7"/><rect x="468.11" y="542.85" width="2.7" height="2.7"/><rect x="464" y="546.27" width="2.7" height="2.7"/></g><path d="M399.45 539.9H433.45" stroke="#222" stroke-width="1.1"/><path d="M450.6 526.3H484.6" stroke="#222" stroke-width="1.1"/><path d="M415.1 484.1V481.2H468.4V484.1" fill="none" stroke="#111" stroke-width="1.1"/><polygon points="437.95,474.1 438.48,475.42 439.9,475.52 438.81,476.43 439.15,477.81 437.95,477.05 436.75,477.81 437.09,476.43 436,475.52 437.42,475.42" fill="#111"/><polygon points="441.7,474.1 442.23,475.42 443.65,475.52 442.56,476.43 442.9,477.81 441.7,477.05 440.5,477.81 440.84,476.43 439.75,475.52 441.17,475.42" fill="#111"/><polygon points="445.45,474.1 445.98,475.42 447.4,475.52 446.31,476.43 446.65,477.81 445.45,477.05 444.25,477.81 444.59,476.43 443.5,475.52 444.92,475.42" fill="#111"/></g>
<g><text x="-0.6" y="592.5" font-size="11.2">M</text><path d="M58.8 602.7V670.65H161.4" fill="none" stroke="#111" stroke-width="1.1"/><text transform="translate(44.81 674.25) scale(0.92 1)" font-size="12.0">0</text><path transform="translate(38.67 660.66) scale(0.005391 -0.005859)" d="M763 0H583V1147Q480 1050 223 930V1104Q420 1195 520 1300Q610 1390 649 1472H763Z" fill="#111" stroke="#111" stroke-width="36"/><text transform="translate(44.81 660.66) scale(0.92 1)" font-size="12.0">0</text><text transform="translate(38.67 647.07) scale(0.92 1)" font-size="12.0">2</text><text transform="translate(44.81 647.07) scale(0.92 1)" font-size="12.0">0</text><text transform="translate(38.67 633.48) scale(0.92 1)" font-size="12.0">3</text><text transform="translate(44.81 633.48) scale(0.92 1)" font-size="12.0">0</text><text transform="translate(38.67 619.89) scale(0.92 1)" font-size="12.0">4</text><text transform="translate(44.81 619.89) scale(0.92 1)" font-size="12.0">0</text><text transform="translate(38.67 606.3) scale(0.92 1)" font-size="12.0">5</text><text transform="translate(44.81 606.3) scale(0.92 1)" font-size="12.0">0</text><path d="M56.6 670.65H58.8M56.6 657.06H58.8M56.6 643.47H58.8M56.6 629.88H58.8M56.6 616.29H58.8M56.6 602.7H58.8" stroke="#111" stroke-width="1.1"/><text transform="translate(15.8 637) rotate(-90)" font-size="11.15" text-anchor="middle">Th17 cells</text><text transform="translate(28 637) rotate(-90)" font-size="11.35" text-anchor="middle">(<tspan dx="0.2">% CD4+ T-cells)</tspan></text><text transform="translate(67.45 684.3) scale(0.965 1)" font-size="11.55">Control</text><text transform="translate(125.1 684.3) scale(0.965 1)" font-size="11.55">ALS</text><g fill="none" stroke="#000" stroke-width="1.0"><circle cx="84.27" cy="648.91" r="1.45"/><circle cx="78.19" cy="652.15" r="1.45"/><circle cx="90.34" cy="652.15" r="1.45"/><circle cx="71.31" cy="654.98" r="1.45"/><circle cx="75.36" cy="655.38" r="1.45"/><circle cx="79" cy="654.57" r="1.45"/><circle cx="82.65" cy="654.57" r="1.45"/><circle cx="86.29" cy="654.57" r="1.45"/><circle cx="90.34" cy="654.17" r="1.45"/><circle cx="92.36" cy="656.19" r="1.45"/><circle cx="96.82" cy="655.38" r="1.45"/><circle cx="76.57" cy="656.6" r="1.45"/><circle cx="80.62" cy="656.84" r="1.45"/><circle cx="84.27" cy="657.98" r="1.45"/><circle cx="87.91" cy="657.65" r="1.45"/><circle cx="68.48" cy="660.65" r="1.45"/><circle cx="71.72" cy="661.05" r="1.45"/><circle cx="74.96" cy="661.21" r="1.45"/><circle cx="78.19" cy="661.21" r="1.45"/><circle cx="81.43" cy="660.89" r="1.45"/><circle cx="84.67" cy="660.65" r="1.45"/><circle cx="87.91" cy="660.89" r="1.45"/><circle cx="91.15" cy="661.21" r="1.45"/><circle cx="94.39" cy="661.21" r="1.45"/><circle cx="98.03" cy="661.05" r="1.45"/><circle cx="71.72" cy="663.08" r="1.45"/><circle cx="74.96" cy="663.32" r="1.45"/><circle cx="78.19" cy="663.48" r="1.45"/><circle cx="81.43" cy="663.48" r="1.45"/><circle cx="84.67" cy="663.64" r="1.45"/><circle cx="87.91" cy="663.48" r="1.45"/><circle cx="91.15" cy="663.32" r="1.45"/><circle cx="94.39" cy="663.08" r="1.45"/><circle cx="96.82" cy="662.67" r="1.45"/><circle cx="71.72" cy="664.94" r="1.45"/><circle cx="75.77" cy="665.75" r="1.45"/><circle cx="79.81" cy="665.51" r="1.45"/><circle cx="83.86" cy="665.91" r="1.45"/><circle cx="87.91" cy="666.07" r="1.45"/><circle cx="92.36" cy="665.75" r="1.45"/><circle cx="96.41" cy="665.26" r="1.45"/><circle cx="84.27" cy="668.34" r="1.45"/></g><g fill="none" stroke="#000" stroke-width="0.85"><rect x="133.87" y="630.49" width="2.7" height="2.7"/><rect x="132.05" y="635.23" width="2.7" height="2.7"/><rect x="136.15" y="635.04" width="2.7" height="2.7"/><rect x="133.6" y="640.96" width="2.7" height="2.7"/><rect x="119.3" y="643.24" width="2.7" height="2.7"/><rect x="123.4" y="644.15" width="2.7" height="2.7"/><rect x="127.5" y="645.06" width="2.7" height="2.7"/><rect x="139.79" y="644.15" width="2.7" height="2.7"/><rect x="143.89" y="643.7" width="2.7" height="2.7"/><rect x="147.99" y="643.06" width="2.7" height="2.7"/><rect x="118.39" y="646.43" width="2.7" height="2.7"/><rect x="122.03" y="647.07" width="2.7" height="2.7"/><rect x="125.68" y="647.79" width="2.7" height="2.7"/><rect x="129.32" y="648.52" width="2.7" height="2.7"/><rect x="132.96" y="649.62" width="2.7" height="2.7"/><rect x="136.61" y="650.53" width="2.7" height="2.7"/><rect x="140.25" y="649.62" width="2.7" height="2.7"/><rect x="143.89" y="648.25" width="2.7" height="2.7"/><rect x="147.54" y="647.34" width="2.7" height="2.7"/><rect x="149.81" y="646.43" width="2.7" height="2.7"/><rect x="131.6" y="645.97" width="2.7" height="2.7"/><rect x="135.7" y="645.97" width="2.7" height="2.7"/><rect x="118.39" y="651.89" width="2.7" height="2.7"/><rect x="122.03" y="652.35" width="2.7" height="2.7"/><rect x="125.68" y="652.8" width="2.7" height="2.7"/><rect x="129.32" y="653.26" width="2.7" height="2.7"/><rect x="132.96" y="653.44" width="2.7" height="2.7"/><rect x="136.61" y="653.44" width="2.7" height="2.7"/><rect x="140.25" y="653.08" width="2.7" height="2.7"/><rect x="143.89" y="652.53" width="2.7" height="2.7"/><rect x="147.99" y="652.17" width="2.7" height="2.7"/><rect x="118.39" y="655.54" width="2.7" height="2.7"/><rect x="122.03" y="655.81" width="2.7" height="2.7"/><rect x="125.68" y="655.99" width="2.7" height="2.7"/><rect x="129.32" y="656.17" width="2.7" height="2.7"/><rect x="132.96" y="656.45" width="2.7" height="2.7"/><rect x="136.61" y="656.45" width="2.7" height="2.7"/><rect x="140.25" y="655.99" width="2.7" height="2.7"/><rect x="143.89" y="655.81" width="2.7" height="2.7"/><rect x="147.99" y="655.54" width="2.7" height="2.7"/><rect x="118.39" y="658.27" width="2.7" height="2.7"/><rect x="122.03" y="658.54" width="2.7" height="2.7"/><rect x="125.68" y="658.72" width="2.7" height="2.7"/><rect x="129.32" y="658.91" width="2.7" height="2.7"/><rect x="132.96" y="659.18" width="2.7" height="2.7"/><rect x="136.61" y="659.18" width="2.7" height="2.7"/><rect x="140.25" y="658.72" width="2.7" height="2.7"/><rect x="143.89" y="658.54" width="2.7" height="2.7"/><rect x="147.99" y="658.27" width="2.7" height="2.7"/><rect x="119.3" y="660.54" width="2.7" height="2.7"/><rect x="122.95" y="660.73" width="2.7" height="2.7"/><rect x="126.59" y="661.27" width="2.7" height="2.7"/><rect x="130.23" y="661.91" width="2.7" height="2.7"/><rect x="133.87" y="662.18" width="2.7" height="2.7"/><rect x="137.52" y="661.91" width="2.7" height="2.7"/><rect x="141.16" y="661.27" width="2.7" height="2.7"/><rect x="144.8" y="660.73" width="2.7" height="2.7"/><rect x="147.99" y="660.54" width="2.7" height="2.7"/><rect x="132.51" y="664.64" width="2.7" height="2.7"/></g><path d="M67.25 660.6H101.25" stroke="#222" stroke-width="1.1"/><path d="M118.4 654H152.4" stroke="#222" stroke-width="1.1"/><path d="M81.4 605.4V602.5H137V605.4" fill="none" stroke="#111" stroke-width="1.1"/><polygon points="104.45,595.5 104.98,596.82 106.4,596.92 105.31,597.83 105.65,599.21 104.45,598.45 103.25,599.21 103.59,597.83 102.5,596.92 103.92,596.82" fill="#111"/><polygon points="108.2,595.5 108.73,596.82 110.15,596.92 109.06,597.83 109.4,599.21 108.2,598.45 107,599.21 107.34,597.83 106.25,596.92 107.67,596.82" fill="#111"/><polygon points="111.95,595.5 112.48,596.82 113.9,596.92 112.81,597.83 113.15,599.21 111.95,598.45 110.75,599.21 111.09,597.83 110,596.92 111.42,596.82" fill="#111"/></g>
<g><text x="171.4" y="593.6" font-size="11.2">N</text><path d="M229 602.5V670.45H331.6" fill="none" stroke="#111" stroke-width="1.1"/><text transform="translate(216.01 674.05) scale(0.92 1)" font-size="12.0">0</text><text transform="translate(216.01 660.46) scale(0.92 1)" font-size="12.0">2</text><text transform="translate(216.01 646.87) scale(0.92 1)" font-size="12.0">4</text><text transform="translate(216.01 633.28) scale(0.92 1)" font-size="12.0">6</text><text transform="translate(216.01 619.69) scale(0.92 1)" font-size="12.0">8</text><path transform="translate(209.87 606.1) scale(0.005391 -0.005859)" d="M763 0H583V1147Q480 1050 223 930V1104Q420 1195 520 1300Q610 1390 649 1472H763Z" fill="#111" stroke="#111" stroke-width="36"/><text transform="translate(216.01 606.1) scale(0.92 1)" font-size="12.0">0</text><path d="M226.8 670.45H229M226.8 656.86H229M226.8 643.27H229M226.8 629.68H229M226.8 616.09H229M226.8 602.5H229" stroke="#111" stroke-width="1.1"/><text transform="translate(189.8 637) rotate(-90)" font-size="11.15" text-anchor="middle">Treg cells</text><text transform="translate(202.3 637) rotate(-90)" font-size="11.35" text-anchor="middle">(<tspan dx="0.2">% CD4+ T-cells)</tspan></text><text transform="translate(237.85 683.9) scale(0.965 1)" font-size="11.55">Control</text><text transform="translate(295.7 683.9) scale(0.965 1)" font-size="11.55">ALS</text><g fill="none" stroke="#000" stroke-width="1.0"><circle cx="254.51" cy="637.13" r="1.45"/><circle cx="258.32" cy="641.98" r="1.45"/><circle cx="250.22" cy="644.57" r="1.45"/><circle cx="254.27" cy="644.57" r="1.45"/><circle cx="244.15" cy="649.84" r="1.45"/><circle cx="248.19" cy="649.84" r="1.45"/><circle cx="252.24" cy="649.6" r="1.45"/><circle cx="256.29" cy="649.84" r="1.45"/><circle cx="260.34" cy="649.6" r="1.45"/><circle cx="264.39" cy="649.27" r="1.45"/><circle cx="250.22" cy="651.86" r="1.45"/><circle cx="258.32" cy="651.86" r="1.45"/><circle cx="254.27" cy="655.51" r="1.45"/><circle cx="239.69" cy="656.32" r="1.45"/><circle cx="243.74" cy="657.94" r="1.45"/><circle cx="248.19" cy="658.34" r="1.45"/><circle cx="252.24" cy="659.55" r="1.45"/><circle cx="256.29" cy="659.31" r="1.45"/><circle cx="260.34" cy="658.34" r="1.45"/><circle cx="264.39" cy="657.53" r="1.45"/><circle cx="268.44" cy="655.91" r="1.45"/><circle cx="246.57" cy="660.36" r="1.45"/><circle cx="239.29" cy="661.58" r="1.45"/><circle cx="242.53" cy="662.23" r="1.45"/><circle cx="245.77" cy="662.79" r="1.45"/><circle cx="249" cy="663.2" r="1.45"/><circle cx="252.24" cy="663.6" r="1.45"/><circle cx="255.48" cy="663.6" r="1.45"/><circle cx="258.72" cy="663.04" r="1.45"/><circle cx="261.96" cy="662.39" r="1.45"/><circle cx="265.2" cy="662.23" r="1.45"/><circle cx="268.84" cy="661.58" r="1.45"/><circle cx="248.19" cy="666.84" r="1.45"/><circle cx="252.24" cy="664.82" r="1.45"/><circle cx="256.29" cy="667.41" r="1.45"/><circle cx="260.34" cy="666.28" r="1.45"/><circle cx="252.24" cy="669.51" r="1.45"/></g><g fill="none" stroke="#000" stroke-width="0.85"><rect x="300.05" y="647.32" width="2.7" height="2.7"/><rect x="307.79" y="647.78" width="2.7" height="2.7"/><rect x="304.15" y="650.33" width="2.7" height="2.7"/><rect x="288.21" y="650.96" width="2.7" height="2.7"/><rect x="319.63" y="650.96" width="2.7" height="2.7"/><rect x="291.4" y="653.06" width="2.7" height="2.7"/><rect x="295.04" y="653.7" width="2.7" height="2.7"/><rect x="298.69" y="654.15" width="2.7" height="2.7"/><rect x="302.33" y="654.33" width="2.7" height="2.7"/><rect x="305.97" y="654.15" width="2.7" height="2.7"/><rect x="309.62" y="653.7" width="2.7" height="2.7"/><rect x="313.26" y="653.06" width="2.7" height="2.7"/><rect x="316.9" y="652.33" width="2.7" height="2.7"/><rect x="288.21" y="655.06" width="2.7" height="2.7"/><rect x="291.86" y="655.52" width="2.7" height="2.7"/><rect x="295.5" y="655.97" width="2.7" height="2.7"/><rect x="299.14" y="656.43" width="2.7" height="2.7"/><rect x="302.78" y="656.7" width="2.7" height="2.7"/><rect x="306.43" y="656.43" width="2.7" height="2.7"/><rect x="310.07" y="655.97" width="2.7" height="2.7"/><rect x="313.71" y="655.52" width="2.7" height="2.7"/><rect x="317.81" y="655.06" width="2.7" height="2.7"/><rect x="287.76" y="657.79" width="2.7" height="2.7"/><rect x="291.4" y="658.25" width="2.7" height="2.7"/><rect x="295.04" y="658.7" width="2.7" height="2.7"/><rect x="298.69" y="659.16" width="2.7" height="2.7"/><rect x="302.33" y="659.43" width="2.7" height="2.7"/><rect x="305.97" y="659.16" width="2.7" height="2.7"/><rect x="309.62" y="658.7" width="2.7" height="2.7"/><rect x="313.26" y="658.25" width="2.7" height="2.7"/><rect x="317.36" y="657.79" width="2.7" height="2.7"/><rect x="287.76" y="660.53" width="2.7" height="2.7"/><rect x="291.4" y="660.71" width="2.7" height="2.7"/><rect x="295.04" y="660.98" width="2.7" height="2.7"/><rect x="298.69" y="661.25" width="2.7" height="2.7"/><rect x="302.33" y="661.44" width="2.7" height="2.7"/><rect x="305.97" y="661.25" width="2.7" height="2.7"/><rect x="309.62" y="660.98" width="2.7" height="2.7"/><rect x="313.26" y="660.71" width="2.7" height="2.7"/><rect x="317.81" y="660.34" width="2.7" height="2.7"/><rect x="287.76" y="662.8" width="2.7" height="2.7"/><rect x="291.4" y="663.08" width="2.7" height="2.7"/><rect x="295.04" y="663.26" width="2.7" height="2.7"/><rect x="298.69" y="663.44" width="2.7" height="2.7"/><rect x="302.33" y="663.71" width="2.7" height="2.7"/><rect x="305.97" y="663.44" width="2.7" height="2.7"/><rect x="309.62" y="663.26" width="2.7" height="2.7"/><rect x="313.26" y="663.08" width="2.7" height="2.7"/><rect x="317.81" y="662.53" width="2.7" height="2.7"/><rect x="288.67" y="665.08" width="2.7" height="2.7"/><rect x="292.31" y="665.54" width="2.7" height="2.7"/><rect x="295.95" y="666.17" width="2.7" height="2.7"/><rect x="299.6" y="666.9" width="2.7" height="2.7"/><rect x="303.24" y="667.36" width="2.7" height="2.7"/><rect x="306.88" y="666.9" width="2.7" height="2.7"/><rect x="310.53" y="666.17" width="2.7" height="2.7"/><rect x="314.17" y="665.54" width="2.7" height="2.7"/><rect x="318.72" y="665.08" width="2.7" height="2.7"/><rect x="294.13" y="667.36" width="2.7" height="2.7"/><rect x="303.24" y="669.45" width="2.7" height="2.7"/></g><path d="M237.45 656.7H271.45" stroke="#222" stroke-width="1.1"/><path d="M288.6 660.5H322.6" stroke="#222" stroke-width="1.1"/><path d="M253.1 604.8V601.9H306.3V604.8" fill="none" stroke="#111" stroke-width="1.1"/><polygon points="278.2,595.2 278.73,596.52 280.15,596.62 279.06,597.53 279.4,598.91 278.2,598.15 277,598.91 277.34,597.53 276.25,596.62 277.67,596.52" fill="#111"/></g>
<g><text x="334" y="593.2" font-size="11.2">O</text><path d="M391.3 602.4V670.35H493.9" fill="none" stroke="#111" stroke-width="1.1"/><text transform="translate(378.51 673.95) scale(0.92 1)" font-size="12.0">0</text><text transform="translate(369.3 660.36) scale(0.92 1)" font-size="12.0">0</text><text transform="translate(375.44 660.36) scale(0.92 1)" font-size="12.0">.</text><text transform="translate(378.51 660.36) scale(0.92 1)" font-size="12.0">4</text><text transform="translate(369.3 646.77) scale(0.92 1)" font-size="12.0">0</text><text transform="translate(375.44 646.77) scale(0.92 1)" font-size="12.0">.</text><text transform="translate(378.51 646.77) scale(0.92 1)" font-size="12.0">8</text><path transform="translate(369.3 633.18) scale(0.005391 -0.005859)" d="M763 0H583V1147Q480 1050 223 930V1104Q420 1195 520 1300Q610 1390 649 1472H763Z" fill="#111" stroke="#111" stroke-width="36"/><text transform="translate(375.44 633.18) scale(0.92 1)" font-size="12.0">.</text><text transform="translate(378.51 633.18) scale(0.92 1)" font-size="12.0">2</text><path transform="translate(369.3 619.59) scale(0.005391 -0.005859)" d="M763 0H583V1147Q480 1050 223 930V1104Q420 1195 520 1300Q610 1390 649 1472H763Z" fill="#111" stroke="#111" stroke-width="36"/><text transform="translate(375.44 619.59) scale(0.92 1)" font-size="12.0">.</text><text transform="translate(378.51 619.59) scale(0.92 1)" font-size="12.0">6</text><text transform="translate(369.3 606) scale(0.92 1)" font-size="12.0">2</text><text transform="translate(375.44 606) scale(0.92 1)" font-size="12.0">.</text><text transform="translate(378.51 606) scale(0.92 1)" font-size="12.0">0</text><path d="M389.1 670.35H391.3M389.1 656.76H391.3M389.1 643.17H391.3M389.1 629.58H391.3M389.1 615.99H391.3M389.1 602.4H391.3" stroke="#111" stroke-width="1.1"/><text transform="translate(352.2 637.3) rotate(-90)" font-size="11.15" text-anchor="middle">Ratio of</text><text transform="translate(363.7 637.3) rotate(-90)" font-size="11.35" text-anchor="middle">Treg/Th17 cells</text><text transform="translate(398.85 683.9) scale(0.965 1)" font-size="11.55">Control</text><text transform="translate(457.1 683.9) scale(0.965 1)" font-size="11.55">ALS</text><g fill="none" stroke="#000" stroke-width="1.0"><circle cx="416.94" cy="633.93" r="1.45"/><circle cx="416.94" cy="643.03" r="1.45"/><circle cx="424.93" cy="652.38" r="1.45"/><circle cx="402.23" cy="657.31" r="1.45"/><circle cx="408.18" cy="655.44" r="1.45"/><circle cx="412.43" cy="656.46" r="1.45"/><circle cx="416.68" cy="656.46" r="1.45"/><circle cx="420.51" cy="656.04" r="1.45"/><circle cx="426.89" cy="657.48" r="1.45"/><circle cx="431.14" cy="657.14" r="1.45"/><circle cx="406.05" cy="659.01" r="1.45"/><circle cx="401.38" cy="661.14" r="1.45"/><circle cx="404.78" cy="661.39" r="1.45"/><circle cx="408.18" cy="661.39" r="1.45"/><circle cx="411.58" cy="661.39" r="1.45"/><circle cx="414.98" cy="661.39" r="1.45"/><circle cx="418.38" cy="661.39" r="1.45"/><circle cx="421.79" cy="661.39" r="1.45"/><circle cx="425.19" cy="661.73" r="1.45"/><circle cx="428.59" cy="661.73" r="1.45"/><circle cx="431.99" cy="661.39" r="1.45"/><circle cx="404.35" cy="662.84" r="1.45"/><circle cx="407.76" cy="662.84" r="1.45"/><circle cx="411.16" cy="663.27" r="1.45"/><circle cx="414.56" cy="663.69" r="1.45"/><circle cx="417.96" cy="663.27" r="1.45"/><circle cx="421.36" cy="663.1" r="1.45"/><circle cx="424.76" cy="662.84" r="1.45"/><circle cx="401.38" cy="664.97" r="1.45"/><circle cx="405.2" cy="665.82" r="1.45"/><circle cx="409.03" cy="666.67" r="1.45"/><circle cx="412.86" cy="667.94" r="1.45"/><circle cx="416.26" cy="668.54" r="1.45"/><circle cx="420.09" cy="668.79" r="1.45"/><circle cx="423.49" cy="667.94" r="1.45"/><circle cx="426.89" cy="666.67" r="1.45"/><circle cx="430.71" cy="665.65" r="1.45"/><circle cx="432.84" cy="664.97" r="1.45"/></g><g fill="none" stroke="#000" stroke-width="0.85"><rect x="464.42" y="651.42" width="2.7" height="2.7"/><rect x="468.42" y="654.61" width="2.7" height="2.7"/><rect x="450.94" y="655.52" width="2.7" height="2.7"/><rect x="454.58" y="656.15" width="2.7" height="2.7"/><rect x="458.22" y="658.25" width="2.7" height="2.7"/><rect x="462.32" y="659.43" width="2.7" height="2.7"/><rect x="466.42" y="659.62" width="2.7" height="2.7"/><rect x="470.06" y="659.43" width="2.7" height="2.7"/><rect x="473.7" y="658.25" width="2.7" height="2.7"/><rect x="477.35" y="656.43" width="2.7" height="2.7"/><rect x="480.99" y="655.79" width="2.7" height="2.7"/><rect x="450.85" y="661.25" width="2.7" height="2.7"/><rect x="453.97" y="662.47" width="2.7" height="2.7"/><rect x="457.09" y="663.43" width="2.7" height="2.7"/><rect x="460.21" y="664.11" width="2.7" height="2.7"/><rect x="463.33" y="664.51" width="2.7" height="2.7"/><rect x="466.45" y="664.65" width="2.7" height="2.7"/><rect x="469.57" y="664.51" width="2.7" height="2.7"/><rect x="472.69" y="664.11" width="2.7" height="2.7"/><rect x="475.81" y="663.43" width="2.7" height="2.7"/><rect x="478.93" y="662.47" width="2.7" height="2.7"/><rect x="482.05" y="661.25" width="2.7" height="2.7"/><rect x="451.62" y="662.58" width="2.7" height="2.7"/><rect x="454.74" y="663.74" width="2.7" height="2.7"/><rect x="457.86" y="664.62" width="2.7" height="2.7"/><rect x="460.98" y="665.23" width="2.7" height="2.7"/><rect x="464.1" y="665.57" width="2.7" height="2.7"/><rect x="467.22" y="665.64" width="2.7" height="2.7"/><rect x="470.34" y="665.44" width="2.7" height="2.7"/><rect x="473.46" y="664.96" width="2.7" height="2.7"/><rect x="476.58" y="664.21" width="2.7" height="2.7"/><rect x="479.7" y="663.2" width="2.7" height="2.7"/><rect x="482.82" y="661.9" width="2.7" height="2.7"/><rect x="450.85" y="663.25" width="2.7" height="2.7"/><rect x="453.97" y="664.47" width="2.7" height="2.7"/><rect x="457.09" y="665.43" width="2.7" height="2.7"/><rect x="460.21" y="666.11" width="2.7" height="2.7"/><rect x="463.33" y="666.51" width="2.7" height="2.7"/><rect x="466.45" y="666.65" width="2.7" height="2.7"/><rect x="469.57" y="666.51" width="2.7" height="2.7"/><rect x="472.69" y="666.11" width="2.7" height="2.7"/><rect x="475.81" y="665.43" width="2.7" height="2.7"/><rect x="478.93" y="664.47" width="2.7" height="2.7"/><rect x="482.05" y="663.25" width="2.7" height="2.7"/><rect x="451.62" y="664.58" width="2.7" height="2.7"/><rect x="454.74" y="665.74" width="2.7" height="2.7"/><rect x="457.86" y="666.62" width="2.7" height="2.7"/><rect x="460.98" y="667.23" width="2.7" height="2.7"/><rect x="464.1" y="667.57" width="2.7" height="2.7"/><rect x="467.22" y="667.64" width="2.7" height="2.7"/><rect x="470.34" y="667.44" width="2.7" height="2.7"/><rect x="473.46" y="666.96" width="2.7" height="2.7"/><rect x="476.58" y="666.21" width="2.7" height="2.7"/><rect x="479.7" y="665.2" width="2.7" height="2.7"/><rect x="482.82" y="663.9" width="2.7" height="2.7"/><rect x="450.85" y="665.25" width="2.7" height="2.7"/><rect x="453.97" y="666.47" width="2.7" height="2.7"/><rect x="457.09" y="667.43" width="2.7" height="2.7"/><rect x="460.21" y="668.11" width="2.7" height="2.7"/><rect x="463.33" y="668.51" width="2.7" height="2.7"/><rect x="466.45" y="668.65" width="2.7" height="2.7"/><rect x="469.57" y="668.51" width="2.7" height="2.7"/><rect x="472.69" y="668.11" width="2.7" height="2.7"/><rect x="475.81" y="667.43" width="2.7" height="2.7"/><rect x="478.93" y="666.47" width="2.7" height="2.7"/><rect x="482.05" y="665.25" width="2.7" height="2.7"/></g><path d="M399.75 660.5H433.75" stroke="#222" stroke-width="1.1"/><path d="M450.9 664H484.9" stroke="#222" stroke-width="1.1"/><path d="M414.7 604.8V601.9H469.8V604.8" fill="none" stroke="#111" stroke-width="1.1"/><polygon points="438.65,595.2 439.18,596.52 440.6,596.62 439.51,597.53 439.85,598.91 438.65,598.15 437.45,598.91 437.79,597.53 436.7,596.62 438.12,596.52" fill="#111"/><polygon points="442.4,595.2 442.93,596.52 444.35,596.62 443.26,597.53 443.6,598.91 442.4,598.15 441.2,598.91 441.54,597.53 440.45,596.62 441.87,596.52" fill="#111"/><polygon points="446.15,595.2 446.68,596.52 448.1,596.62 447.01,597.53 447.35,598.91 446.15,598.15 444.95,598.91 445.29,597.53 444.2,596.62 445.62,596.52" fill="#111"/></g>
</svg></body></html>
